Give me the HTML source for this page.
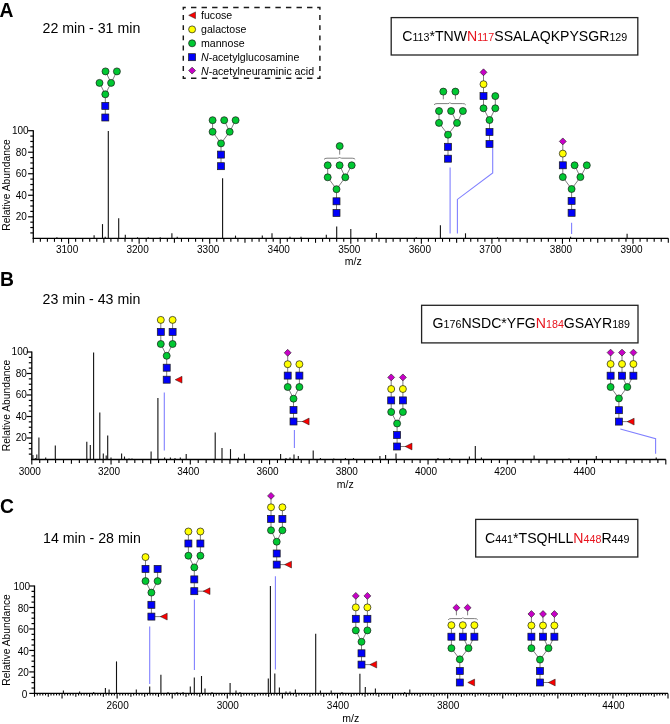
<!DOCTYPE html>
<html><head><meta charset="utf-8"><style>
html,body{margin:0;padding:0;background:#fff;}
body{width:670px;height:724px;overflow:hidden;}
svg{display:block;will-change:transform;font-family:"Liberation Sans", sans-serif;}
</style></head><body>
<svg width="670" height="724" viewBox="0 0 670 724" font-family='"Liberation Sans", sans-serif'>
<rect width="670" height="724" fill="#fff"/>
<text x="-0.50" y="16.80" font-size="19.3" text-anchor="start" font-weight="bold" fill="#000" >A</text>
<text x="42.50" y="33.10" font-size="14.2" text-anchor="start" font-weight="normal" fill="#000" >22 min - 31 min</text>
<path d="M182.60000000000002,7.4 H185.8 M183.3,6.7 V9.8 M317.2,7.4 H320.59999999999997 M319.9,6.7 V9.8 M182.60000000000002,78.2 H185.8 M183.3,78.9 V76.0 M317.2,78.2 H320.59999999999997 M319.9,78.9 V75.8 M191.00,7.4 H196.40 M191.00,78.2 H196.40 M201.55,7.4 H206.95 M201.55,78.2 H206.95 M212.10,7.4 H217.50 M212.10,78.2 H217.50 M222.65,7.4 H228.05 M222.65,78.2 H228.05 M233.20,7.4 H238.60 M233.20,78.2 H238.60 M243.75,7.4 H249.15 M243.75,78.2 H249.15 M254.30,7.4 H259.70 M254.30,78.2 H259.70 M264.85,7.4 H270.25 M264.85,78.2 H270.25 M275.40,7.4 H280.80 M275.40,78.2 H280.80 M285.95,7.4 H291.35 M285.95,78.2 H291.35 M296.50,7.4 H301.90 M296.50,78.2 H301.90 M307.05,7.4 H312.45 M307.05,78.2 H312.45 M183.3,15.00 V19.90 M319.9,15.00 V19.90 M183.3,25.20 V30.10 M319.9,25.20 V30.10 M183.3,35.40 V40.30 M319.9,35.40 V40.30 M183.3,45.60 V50.50 M319.9,45.60 V50.50 M183.3,55.80 V60.70 M319.9,55.80 V60.70 M183.3,66.00 V70.90 M319.9,66.00 V70.90" fill="none" stroke="#1a1a1a" stroke-width="1.45"/>
<path d="M188.70,15.30 L195.50,11.90 L195.50,18.70 Z" fill="#fa0000" stroke="#1a1a1a" stroke-width="0.5"/>
<circle cx="192.10" cy="29.40" r="3.50" fill="#ffff00" stroke="#1a1a1a" stroke-width="0.7"/>
<circle cx="192.10" cy="43.30" r="3.50" fill="#00c832" stroke="#1a1a1a" stroke-width="0.7"/>
<rect x="188.60" y="53.70" width="7.00" height="7.00" fill="#0000fa" stroke="#1a1a1a" stroke-width="0.7"/>
<path d="M192.10,67.15 L195.55,70.60 L192.10,74.05 L188.65,70.60 Z" fill="#c800c8" stroke="#1a1a1a" stroke-width="0.6"/>
<text x="201.00" y="19.30" font-size="10.6" text-anchor="start" font-weight="normal" fill="#000" >fucose</text>
<text x="201.00" y="33.40" font-size="10.6" text-anchor="start" font-weight="normal" fill="#000" >galactose</text>
<text x="201.00" y="47.30" font-size="10.6" text-anchor="start" font-weight="normal" fill="#000" >mannose</text>
<text x="201" y="61.20" font-size="10.6" fill="#000"><tspan font-style="italic">N</tspan>-acetylglucosamine</text>
<text x="201" y="74.60" font-size="10.6" fill="#000"><tspan font-style="italic">N</tspan>-acetylneuraminic acid</text>
<rect x="391.2" y="17.6" width="246.6" height="37.4" fill="none" stroke="#222" stroke-width="1.3"/>
<text x="402.20" y="41.30" fill="#000"><tspan font-size="14.1">C</tspan><tspan font-size="10.7">113</tspan><tspan font-size="14.1">*TNW</tspan><tspan font-size="14.1" fill="#e8141e">N</tspan><tspan font-size="10.7" fill="#e8141e">117</tspan><tspan font-size="14.1">SSALAQKPYSGR</tspan><tspan font-size="10.7">129</tspan></text>
<text transform="translate(9.60,185.00) rotate(-90)" font-size="10.3" text-anchor="middle" fill="#000">Relative Abundance</text>
<line x1="33.30" y1="130.20" x2="33.30" y2="238.90" stroke="#000" stroke-width="1.3" />
<line x1="32.70" y1="238.30" x2="668.30" y2="238.30" stroke="#000" stroke-width="1.3" />
<line x1="30.30" y1="232.92" x2="33.30" y2="232.92" stroke="#000" stroke-width="1.2" />
<line x1="30.30" y1="227.54" x2="33.30" y2="227.54" stroke="#000" stroke-width="1.2" />
<line x1="30.30" y1="222.16" x2="33.30" y2="222.16" stroke="#000" stroke-width="1.2" />
<line x1="28.10" y1="216.78" x2="33.30" y2="216.78" stroke="#000" stroke-width="1.2" />
<text x="26.80" y="220.18" font-size="10" text-anchor="end" font-weight="normal" fill="#000" >20</text>
<line x1="30.30" y1="211.40" x2="33.30" y2="211.40" stroke="#000" stroke-width="1.2" />
<line x1="30.30" y1="206.02" x2="33.30" y2="206.02" stroke="#000" stroke-width="1.2" />
<line x1="30.30" y1="200.64" x2="33.30" y2="200.64" stroke="#000" stroke-width="1.2" />
<line x1="28.10" y1="195.26" x2="33.30" y2="195.26" stroke="#000" stroke-width="1.2" />
<text x="26.80" y="198.66" font-size="10" text-anchor="end" font-weight="normal" fill="#000" >40</text>
<line x1="30.30" y1="189.88" x2="33.30" y2="189.88" stroke="#000" stroke-width="1.2" />
<line x1="30.30" y1="184.50" x2="33.30" y2="184.50" stroke="#000" stroke-width="1.2" />
<line x1="30.30" y1="179.12" x2="33.30" y2="179.12" stroke="#000" stroke-width="1.2" />
<line x1="28.10" y1="173.74" x2="33.30" y2="173.74" stroke="#000" stroke-width="1.2" />
<text x="26.80" y="177.14" font-size="10" text-anchor="end" font-weight="normal" fill="#000" >60</text>
<line x1="30.30" y1="168.36" x2="33.30" y2="168.36" stroke="#000" stroke-width="1.2" />
<line x1="30.30" y1="162.98" x2="33.30" y2="162.98" stroke="#000" stroke-width="1.2" />
<line x1="30.30" y1="157.60" x2="33.30" y2="157.60" stroke="#000" stroke-width="1.2" />
<line x1="28.10" y1="152.22" x2="33.30" y2="152.22" stroke="#000" stroke-width="1.2" />
<text x="26.80" y="155.62" font-size="10" text-anchor="end" font-weight="normal" fill="#000" >80</text>
<line x1="30.30" y1="146.84" x2="33.30" y2="146.84" stroke="#000" stroke-width="1.2" />
<line x1="30.30" y1="141.46" x2="33.30" y2="141.46" stroke="#000" stroke-width="1.2" />
<line x1="30.30" y1="136.08" x2="33.30" y2="136.08" stroke="#000" stroke-width="1.2" />
<line x1="28.10" y1="130.70" x2="33.30" y2="130.70" stroke="#000" stroke-width="1.2" />
<text x="28.60" y="134.10" font-size="10" text-anchor="end" font-weight="normal" fill="#000" >100</text>
<line x1="33.30" y1="238.30" x2="33.30" y2="242.80" stroke="#000" stroke-width="1.1" />
<line x1="40.36" y1="238.30" x2="40.36" y2="241.80" stroke="#000" stroke-width="1.1" />
<line x1="47.41" y1="238.30" x2="47.41" y2="241.80" stroke="#000" stroke-width="1.1" />
<line x1="54.47" y1="238.30" x2="54.47" y2="241.80" stroke="#000" stroke-width="1.1" />
<line x1="61.52" y1="238.30" x2="61.52" y2="241.80" stroke="#000" stroke-width="1.1" />
<line x1="68.58" y1="238.30" x2="68.58" y2="243.80" stroke="#000" stroke-width="1.1" />
<line x1="75.63" y1="238.30" x2="75.63" y2="241.80" stroke="#000" stroke-width="1.1" />
<line x1="82.69" y1="238.30" x2="82.69" y2="241.80" stroke="#000" stroke-width="1.1" />
<line x1="89.74" y1="238.30" x2="89.74" y2="241.80" stroke="#000" stroke-width="1.1" />
<line x1="96.80" y1="238.30" x2="96.80" y2="241.80" stroke="#000" stroke-width="1.1" />
<line x1="103.86" y1="238.30" x2="103.86" y2="242.80" stroke="#000" stroke-width="1.1" />
<line x1="110.91" y1="238.30" x2="110.91" y2="241.80" stroke="#000" stroke-width="1.1" />
<line x1="117.97" y1="238.30" x2="117.97" y2="241.80" stroke="#000" stroke-width="1.1" />
<line x1="125.02" y1="238.30" x2="125.02" y2="241.80" stroke="#000" stroke-width="1.1" />
<line x1="132.08" y1="238.30" x2="132.08" y2="241.80" stroke="#000" stroke-width="1.1" />
<line x1="139.13" y1="238.30" x2="139.13" y2="243.80" stroke="#000" stroke-width="1.1" />
<line x1="146.19" y1="238.30" x2="146.19" y2="241.80" stroke="#000" stroke-width="1.1" />
<line x1="153.24" y1="238.30" x2="153.24" y2="241.80" stroke="#000" stroke-width="1.1" />
<line x1="160.30" y1="238.30" x2="160.30" y2="241.80" stroke="#000" stroke-width="1.1" />
<line x1="167.36" y1="238.30" x2="167.36" y2="241.80" stroke="#000" stroke-width="1.1" />
<line x1="174.41" y1="238.30" x2="174.41" y2="242.80" stroke="#000" stroke-width="1.1" />
<line x1="181.47" y1="238.30" x2="181.47" y2="241.80" stroke="#000" stroke-width="1.1" />
<line x1="188.52" y1="238.30" x2="188.52" y2="241.80" stroke="#000" stroke-width="1.1" />
<line x1="195.58" y1="238.30" x2="195.58" y2="241.80" stroke="#000" stroke-width="1.1" />
<line x1="202.63" y1="238.30" x2="202.63" y2="241.80" stroke="#000" stroke-width="1.1" />
<line x1="209.69" y1="238.30" x2="209.69" y2="243.80" stroke="#000" stroke-width="1.1" />
<line x1="216.74" y1="238.30" x2="216.74" y2="241.80" stroke="#000" stroke-width="1.1" />
<line x1="223.80" y1="238.30" x2="223.80" y2="241.80" stroke="#000" stroke-width="1.1" />
<line x1="230.86" y1="238.30" x2="230.86" y2="241.80" stroke="#000" stroke-width="1.1" />
<line x1="237.91" y1="238.30" x2="237.91" y2="241.80" stroke="#000" stroke-width="1.1" />
<line x1="244.97" y1="238.30" x2="244.97" y2="242.80" stroke="#000" stroke-width="1.1" />
<line x1="252.02" y1="238.30" x2="252.02" y2="241.80" stroke="#000" stroke-width="1.1" />
<line x1="259.08" y1="238.30" x2="259.08" y2="241.80" stroke="#000" stroke-width="1.1" />
<line x1="266.13" y1="238.30" x2="266.13" y2="241.80" stroke="#000" stroke-width="1.1" />
<line x1="273.19" y1="238.30" x2="273.19" y2="241.80" stroke="#000" stroke-width="1.1" />
<line x1="280.24" y1="238.30" x2="280.24" y2="243.80" stroke="#000" stroke-width="1.1" />
<line x1="287.30" y1="238.30" x2="287.30" y2="241.80" stroke="#000" stroke-width="1.1" />
<line x1="294.36" y1="238.30" x2="294.36" y2="241.80" stroke="#000" stroke-width="1.1" />
<line x1="301.41" y1="238.30" x2="301.41" y2="241.80" stroke="#000" stroke-width="1.1" />
<line x1="308.47" y1="238.30" x2="308.47" y2="241.80" stroke="#000" stroke-width="1.1" />
<line x1="315.52" y1="238.30" x2="315.52" y2="242.80" stroke="#000" stroke-width="1.1" />
<line x1="322.58" y1="238.30" x2="322.58" y2="241.80" stroke="#000" stroke-width="1.1" />
<line x1="329.63" y1="238.30" x2="329.63" y2="241.80" stroke="#000" stroke-width="1.1" />
<line x1="336.69" y1="238.30" x2="336.69" y2="241.80" stroke="#000" stroke-width="1.1" />
<line x1="343.74" y1="238.30" x2="343.74" y2="241.80" stroke="#000" stroke-width="1.1" />
<line x1="350.80" y1="238.30" x2="350.80" y2="243.80" stroke="#000" stroke-width="1.1" />
<line x1="357.86" y1="238.30" x2="357.86" y2="241.80" stroke="#000" stroke-width="1.1" />
<line x1="364.91" y1="238.30" x2="364.91" y2="241.80" stroke="#000" stroke-width="1.1" />
<line x1="371.97" y1="238.30" x2="371.97" y2="241.80" stroke="#000" stroke-width="1.1" />
<line x1="379.02" y1="238.30" x2="379.02" y2="241.80" stroke="#000" stroke-width="1.1" />
<line x1="386.08" y1="238.30" x2="386.08" y2="242.80" stroke="#000" stroke-width="1.1" />
<line x1="393.13" y1="238.30" x2="393.13" y2="241.80" stroke="#000" stroke-width="1.1" />
<line x1="400.19" y1="238.30" x2="400.19" y2="241.80" stroke="#000" stroke-width="1.1" />
<line x1="407.24" y1="238.30" x2="407.24" y2="241.80" stroke="#000" stroke-width="1.1" />
<line x1="414.30" y1="238.30" x2="414.30" y2="241.80" stroke="#000" stroke-width="1.1" />
<line x1="421.36" y1="238.30" x2="421.36" y2="243.80" stroke="#000" stroke-width="1.1" />
<line x1="428.41" y1="238.30" x2="428.41" y2="241.80" stroke="#000" stroke-width="1.1" />
<line x1="435.47" y1="238.30" x2="435.47" y2="241.80" stroke="#000" stroke-width="1.1" />
<line x1="442.52" y1="238.30" x2="442.52" y2="241.80" stroke="#000" stroke-width="1.1" />
<line x1="449.58" y1="238.30" x2="449.58" y2="241.80" stroke="#000" stroke-width="1.1" />
<line x1="456.63" y1="238.30" x2="456.63" y2="242.80" stroke="#000" stroke-width="1.1" />
<line x1="463.69" y1="238.30" x2="463.69" y2="241.80" stroke="#000" stroke-width="1.1" />
<line x1="470.74" y1="238.30" x2="470.74" y2="241.80" stroke="#000" stroke-width="1.1" />
<line x1="477.80" y1="238.30" x2="477.80" y2="241.80" stroke="#000" stroke-width="1.1" />
<line x1="484.86" y1="238.30" x2="484.86" y2="241.80" stroke="#000" stroke-width="1.1" />
<line x1="491.91" y1="238.30" x2="491.91" y2="243.80" stroke="#000" stroke-width="1.1" />
<line x1="498.97" y1="238.30" x2="498.97" y2="241.80" stroke="#000" stroke-width="1.1" />
<line x1="506.02" y1="238.30" x2="506.02" y2="241.80" stroke="#000" stroke-width="1.1" />
<line x1="513.08" y1="238.30" x2="513.08" y2="241.80" stroke="#000" stroke-width="1.1" />
<line x1="520.13" y1="238.30" x2="520.13" y2="241.80" stroke="#000" stroke-width="1.1" />
<line x1="527.19" y1="238.30" x2="527.19" y2="242.80" stroke="#000" stroke-width="1.1" />
<line x1="534.24" y1="238.30" x2="534.24" y2="241.80" stroke="#000" stroke-width="1.1" />
<line x1="541.30" y1="238.30" x2="541.30" y2="241.80" stroke="#000" stroke-width="1.1" />
<line x1="548.36" y1="238.30" x2="548.36" y2="241.80" stroke="#000" stroke-width="1.1" />
<line x1="555.41" y1="238.30" x2="555.41" y2="241.80" stroke="#000" stroke-width="1.1" />
<line x1="562.47" y1="238.30" x2="562.47" y2="243.80" stroke="#000" stroke-width="1.1" />
<line x1="569.52" y1="238.30" x2="569.52" y2="241.80" stroke="#000" stroke-width="1.1" />
<line x1="576.58" y1="238.30" x2="576.58" y2="241.80" stroke="#000" stroke-width="1.1" />
<line x1="583.63" y1="238.30" x2="583.63" y2="241.80" stroke="#000" stroke-width="1.1" />
<line x1="590.69" y1="238.30" x2="590.69" y2="241.80" stroke="#000" stroke-width="1.1" />
<line x1="597.74" y1="238.30" x2="597.74" y2="242.80" stroke="#000" stroke-width="1.1" />
<line x1="604.80" y1="238.30" x2="604.80" y2="241.80" stroke="#000" stroke-width="1.1" />
<line x1="611.86" y1="238.30" x2="611.86" y2="241.80" stroke="#000" stroke-width="1.1" />
<line x1="618.91" y1="238.30" x2="618.91" y2="241.80" stroke="#000" stroke-width="1.1" />
<line x1="625.97" y1="238.30" x2="625.97" y2="241.80" stroke="#000" stroke-width="1.1" />
<line x1="633.02" y1="238.30" x2="633.02" y2="243.80" stroke="#000" stroke-width="1.1" />
<line x1="640.08" y1="238.30" x2="640.08" y2="241.80" stroke="#000" stroke-width="1.1" />
<line x1="647.13" y1="238.30" x2="647.13" y2="241.80" stroke="#000" stroke-width="1.1" />
<line x1="654.19" y1="238.30" x2="654.19" y2="241.80" stroke="#000" stroke-width="1.1" />
<line x1="661.24" y1="238.30" x2="661.24" y2="241.80" stroke="#000" stroke-width="1.1" />
<line x1="668.30" y1="238.30" x2="668.30" y2="242.80" stroke="#000" stroke-width="1.1" />
<text x="67.08" y="253.30" font-size="10" text-anchor="middle" font-weight="normal" fill="#000" >3100</text>
<text x="137.63" y="253.30" font-size="10" text-anchor="middle" font-weight="normal" fill="#000" >3200</text>
<text x="208.19" y="253.30" font-size="10" text-anchor="middle" font-weight="normal" fill="#000" >3300</text>
<text x="278.74" y="253.30" font-size="10" text-anchor="middle" font-weight="normal" fill="#000" >3400</text>
<text x="349.30" y="253.30" font-size="10" text-anchor="middle" font-weight="normal" fill="#000" >3500</text>
<text x="419.86" y="253.30" font-size="10" text-anchor="middle" font-weight="normal" fill="#000" >3600</text>
<text x="490.41" y="253.30" font-size="10" text-anchor="middle" font-weight="normal" fill="#000" >3700</text>
<text x="560.97" y="253.30" font-size="10" text-anchor="middle" font-weight="normal" fill="#000" >3800</text>
<text x="631.52" y="253.30" font-size="10" text-anchor="middle" font-weight="normal" fill="#000" >3900</text>
<text x="353.30" y="265.40" font-size="10.5" text-anchor="middle" font-weight="normal" fill="#000" >m/z</text>
<line x1="56.90" y1="238.30" x2="56.90" y2="237.30" stroke="#111" stroke-width="1.1" />
<line x1="94.10" y1="238.30" x2="94.10" y2="235.30" stroke="#111" stroke-width="1.1" />
<line x1="102.50" y1="238.30" x2="102.50" y2="224.10" stroke="#111" stroke-width="1.1" />
<line x1="105.20" y1="238.30" x2="105.20" y2="236.80" stroke="#111" stroke-width="1.1" />
<line x1="108.30" y1="238.30" x2="108.30" y2="131.10" stroke="#111" stroke-width="1.1" />
<line x1="118.70" y1="238.30" x2="118.70" y2="218.30" stroke="#111" stroke-width="1.1" />
<line x1="125.30" y1="238.30" x2="125.30" y2="234.80" stroke="#111" stroke-width="1.1" />
<line x1="137.50" y1="238.30" x2="137.50" y2="237.30" stroke="#111" stroke-width="1.1" />
<line x1="148.20" y1="238.30" x2="148.20" y2="237.30" stroke="#111" stroke-width="1.1" />
<line x1="160.20" y1="238.30" x2="160.20" y2="237.30" stroke="#111" stroke-width="1.1" />
<line x1="171.90" y1="238.30" x2="171.90" y2="233.30" stroke="#111" stroke-width="1.1" />
<line x1="177.20" y1="238.30" x2="177.20" y2="236.80" stroke="#111" stroke-width="1.1" />
<line x1="222.60" y1="238.30" x2="222.60" y2="178.30" stroke="#111" stroke-width="1.1" />
<line x1="235.50" y1="238.30" x2="235.50" y2="235.60" stroke="#111" stroke-width="1.1" />
<line x1="262.30" y1="238.30" x2="262.30" y2="235.60" stroke="#111" stroke-width="1.1" />
<line x1="272.00" y1="238.30" x2="272.00" y2="233.30" stroke="#111" stroke-width="1.1" />
<line x1="290.00" y1="238.30" x2="290.00" y2="236.80" stroke="#111" stroke-width="1.1" />
<line x1="301.00" y1="238.30" x2="301.00" y2="236.80" stroke="#111" stroke-width="1.1" />
<line x1="326.30" y1="238.30" x2="326.30" y2="234.80" stroke="#111" stroke-width="1.1" />
<line x1="336.70" y1="238.30" x2="336.70" y2="226.60" stroke="#111" stroke-width="1.1" />
<line x1="350.80" y1="238.30" x2="350.80" y2="228.90" stroke="#111" stroke-width="1.1" />
<line x1="376.40" y1="238.30" x2="376.40" y2="232.90" stroke="#111" stroke-width="1.1" />
<line x1="416.20" y1="238.30" x2="416.20" y2="237.30" stroke="#111" stroke-width="1.1" />
<line x1="440.40" y1="238.30" x2="440.40" y2="225.30" stroke="#111" stroke-width="1.1" />
<line x1="465.50" y1="238.30" x2="465.50" y2="233.30" stroke="#111" stroke-width="1.1" />
<line x1="497.50" y1="238.30" x2="497.50" y2="237.30" stroke="#111" stroke-width="1.1" />
<line x1="570.60" y1="238.30" x2="570.60" y2="236.80" stroke="#111" stroke-width="1.1" />
<line x1="627.10" y1="238.30" x2="627.10" y2="233.80" stroke="#111" stroke-width="1.1" />
<line x1="450.10" y1="167.50" x2="450.10" y2="233.60" stroke="#8080ff" stroke-width="1.1" />
<polyline points="492.7,147.7 492.7,172.9 457.4,199.4 457.4,233.6" fill="none" stroke="#8080ff" stroke-width="1.1"/>
<line x1="571.60" y1="222.70" x2="571.60" y2="234.10" stroke="#8080ff" stroke-width="1.1" />
<line x1="105.30" y1="117.50" x2="105.30" y2="105.90" stroke="#707070" stroke-width="0.9" />
<line x1="105.30" y1="105.90" x2="105.30" y2="94.30" stroke="#707070" stroke-width="0.9" />
<line x1="105.30" y1="94.30" x2="99.50" y2="82.90" stroke="#707070" stroke-width="0.9" />
<line x1="105.30" y1="94.30" x2="111.10" y2="82.90" stroke="#707070" stroke-width="0.9" />
<line x1="111.10" y1="82.90" x2="105.50" y2="71.40" stroke="#707070" stroke-width="0.9" />
<line x1="111.10" y1="82.90" x2="116.90" y2="71.40" stroke="#707070" stroke-width="0.9" />
<rect x="101.80" y="114.00" width="7.00" height="7.00" fill="#0000fa" stroke="#1a1a1a" stroke-width="0.7"/>
<rect x="101.80" y="102.40" width="7.00" height="7.00" fill="#0000fa" stroke="#1a1a1a" stroke-width="0.7"/>
<circle cx="105.30" cy="94.30" r="3.50" fill="#00c832" stroke="#1a1a1a" stroke-width="0.7"/>
<circle cx="99.50" cy="82.90" r="3.50" fill="#00c832" stroke="#1a1a1a" stroke-width="0.7"/>
<circle cx="111.10" cy="82.90" r="3.50" fill="#00c832" stroke="#1a1a1a" stroke-width="0.7"/>
<circle cx="105.50" cy="71.40" r="3.50" fill="#00c832" stroke="#1a1a1a" stroke-width="0.7"/>
<circle cx="116.90" cy="71.40" r="3.50" fill="#00c832" stroke="#1a1a1a" stroke-width="0.7"/>
<line x1="221.00" y1="166.20" x2="221.00" y2="154.60" stroke="#707070" stroke-width="0.9" />
<line x1="221.00" y1="154.60" x2="221.00" y2="143.40" stroke="#707070" stroke-width="0.9" />
<line x1="221.00" y1="143.40" x2="212.60" y2="131.80" stroke="#707070" stroke-width="0.9" />
<line x1="221.00" y1="143.40" x2="229.70" y2="131.80" stroke="#707070" stroke-width="0.9" />
<line x1="212.60" y1="131.80" x2="212.60" y2="120.20" stroke="#707070" stroke-width="0.9" />
<line x1="229.70" y1="131.80" x2="224.20" y2="120.20" stroke="#707070" stroke-width="0.9" />
<line x1="229.70" y1="131.80" x2="235.60" y2="120.20" stroke="#707070" stroke-width="0.9" />
<rect x="217.50" y="162.70" width="7.00" height="7.00" fill="#0000fa" stroke="#1a1a1a" stroke-width="0.7"/>
<rect x="217.50" y="151.10" width="7.00" height="7.00" fill="#0000fa" stroke="#1a1a1a" stroke-width="0.7"/>
<circle cx="221.00" cy="143.40" r="3.50" fill="#00c832" stroke="#1a1a1a" stroke-width="0.7"/>
<circle cx="212.60" cy="131.80" r="3.50" fill="#00c832" stroke="#1a1a1a" stroke-width="0.7"/>
<circle cx="229.70" cy="131.80" r="3.50" fill="#00c832" stroke="#1a1a1a" stroke-width="0.7"/>
<circle cx="212.60" cy="120.20" r="3.50" fill="#00c832" stroke="#1a1a1a" stroke-width="0.7"/>
<circle cx="224.20" cy="120.20" r="3.50" fill="#00c832" stroke="#1a1a1a" stroke-width="0.7"/>
<circle cx="235.60" cy="120.20" r="3.50" fill="#00c832" stroke="#1a1a1a" stroke-width="0.7"/>
<line x1="336.50" y1="213.00" x2="336.50" y2="201.30" stroke="#707070" stroke-width="0.9" />
<line x1="336.50" y1="201.30" x2="336.50" y2="189.20" stroke="#707070" stroke-width="0.9" />
<line x1="336.50" y1="189.20" x2="327.70" y2="177.30" stroke="#707070" stroke-width="0.9" />
<line x1="336.50" y1="189.20" x2="345.30" y2="177.30" stroke="#707070" stroke-width="0.9" />
<line x1="327.70" y1="177.30" x2="327.70" y2="165.30" stroke="#707070" stroke-width="0.9" />
<line x1="345.30" y1="177.30" x2="339.60" y2="165.30" stroke="#707070" stroke-width="0.9" />
<line x1="345.30" y1="177.30" x2="351.70" y2="165.30" stroke="#707070" stroke-width="0.9" />
<line x1="339.70" y1="149.00" x2="339.70" y2="154.60" stroke="#707070" stroke-width="0.9" />
<rect x="333.00" y="209.50" width="7.00" height="7.00" fill="#0000fa" stroke="#1a1a1a" stroke-width="0.7"/>
<rect x="333.00" y="197.80" width="7.00" height="7.00" fill="#0000fa" stroke="#1a1a1a" stroke-width="0.7"/>
<circle cx="336.50" cy="189.20" r="3.50" fill="#00c832" stroke="#1a1a1a" stroke-width="0.7"/>
<circle cx="327.70" cy="177.30" r="3.50" fill="#00c832" stroke="#1a1a1a" stroke-width="0.7"/>
<circle cx="345.30" cy="177.30" r="3.50" fill="#00c832" stroke="#1a1a1a" stroke-width="0.7"/>
<circle cx="327.70" cy="165.30" r="3.50" fill="#00c832" stroke="#1a1a1a" stroke-width="0.7"/>
<circle cx="339.60" cy="165.30" r="3.50" fill="#00c832" stroke="#1a1a1a" stroke-width="0.7"/>
<circle cx="351.70" cy="165.30" r="3.50" fill="#00c832" stroke="#1a1a1a" stroke-width="0.7"/>
<circle cx="339.70" cy="146.10" r="3.50" fill="#00c832" stroke="#1a1a1a" stroke-width="0.7"/>
<path d="M324.00,159.50 Q324.50,158.20 327.00,158.20 L337.60,158.20 Q339.10,158.20 339.60,157.20 Q340.10,158.20 341.60,158.20 L352.20,158.20 Q354.70,158.20 355.20,159.50" fill="none" stroke="#707070" stroke-width="0.9"/>
<line x1="448.00" y1="158.70" x2="448.00" y2="146.80" stroke="#707070" stroke-width="0.9" />
<line x1="448.00" y1="146.80" x2="448.00" y2="134.70" stroke="#707070" stroke-width="0.9" />
<line x1="448.00" y1="134.70" x2="439.00" y2="122.90" stroke="#707070" stroke-width="0.9" />
<line x1="448.00" y1="134.70" x2="457.00" y2="122.90" stroke="#707070" stroke-width="0.9" />
<line x1="439.00" y1="122.90" x2="439.00" y2="111.00" stroke="#707070" stroke-width="0.9" />
<line x1="457.00" y1="122.90" x2="451.10" y2="111.00" stroke="#707070" stroke-width="0.9" />
<line x1="457.00" y1="122.90" x2="462.90" y2="111.00" stroke="#707070" stroke-width="0.9" />
<line x1="443.30" y1="94.50" x2="443.30" y2="99.30" stroke="#707070" stroke-width="0.9" />
<line x1="455.40" y1="94.50" x2="455.40" y2="99.30" stroke="#707070" stroke-width="0.9" />
<rect x="444.50" y="155.20" width="7.00" height="7.00" fill="#0000fa" stroke="#1a1a1a" stroke-width="0.7"/>
<rect x="444.50" y="143.30" width="7.00" height="7.00" fill="#0000fa" stroke="#1a1a1a" stroke-width="0.7"/>
<circle cx="448.00" cy="134.70" r="3.50" fill="#00c832" stroke="#1a1a1a" stroke-width="0.7"/>
<circle cx="439.00" cy="122.90" r="3.50" fill="#00c832" stroke="#1a1a1a" stroke-width="0.7"/>
<circle cx="457.00" cy="122.90" r="3.50" fill="#00c832" stroke="#1a1a1a" stroke-width="0.7"/>
<circle cx="439.00" cy="111.00" r="3.50" fill="#00c832" stroke="#1a1a1a" stroke-width="0.7"/>
<circle cx="451.10" cy="111.00" r="3.50" fill="#00c832" stroke="#1a1a1a" stroke-width="0.7"/>
<circle cx="462.90" cy="111.00" r="3.50" fill="#00c832" stroke="#1a1a1a" stroke-width="0.7"/>
<circle cx="443.30" cy="91.60" r="3.50" fill="#00c832" stroke="#1a1a1a" stroke-width="0.7"/>
<circle cx="455.40" cy="91.60" r="3.50" fill="#00c832" stroke="#1a1a1a" stroke-width="0.7"/>
<path d="M434.00,104.90 Q434.50,103.60 437.00,103.60 L447.85,103.60 Q449.35,103.60 449.85,102.60 Q450.35,103.60 451.85,103.60 L462.70,103.60 Q465.20,103.60 465.70,104.90" fill="none" stroke="#707070" stroke-width="0.9"/>
<line x1="489.50" y1="144.00" x2="489.50" y2="132.00" stroke="#707070" stroke-width="0.9" />
<line x1="489.50" y1="132.00" x2="489.50" y2="120.00" stroke="#707070" stroke-width="0.9" />
<line x1="489.50" y1="120.00" x2="483.50" y2="108.30" stroke="#707070" stroke-width="0.9" />
<line x1="489.50" y1="120.00" x2="495.30" y2="108.30" stroke="#707070" stroke-width="0.9" />
<line x1="483.50" y1="108.30" x2="483.50" y2="96.10" stroke="#707070" stroke-width="0.9" />
<line x1="483.50" y1="96.10" x2="483.50" y2="84.20" stroke="#707070" stroke-width="0.9" />
<line x1="483.50" y1="84.20" x2="483.50" y2="72.30" stroke="#707070" stroke-width="0.9" />
<line x1="495.30" y1="108.30" x2="495.30" y2="96.10" stroke="#707070" stroke-width="0.9" />
<rect x="486.00" y="140.50" width="7.00" height="7.00" fill="#0000fa" stroke="#1a1a1a" stroke-width="0.7"/>
<rect x="486.00" y="128.50" width="7.00" height="7.00" fill="#0000fa" stroke="#1a1a1a" stroke-width="0.7"/>
<circle cx="489.50" cy="120.00" r="3.50" fill="#00c832" stroke="#1a1a1a" stroke-width="0.7"/>
<circle cx="483.50" cy="108.30" r="3.50" fill="#00c832" stroke="#1a1a1a" stroke-width="0.7"/>
<circle cx="495.30" cy="108.30" r="3.50" fill="#00c832" stroke="#1a1a1a" stroke-width="0.7"/>
<rect x="480.00" y="92.60" width="7.00" height="7.00" fill="#0000fa" stroke="#1a1a1a" stroke-width="0.7"/>
<circle cx="483.50" cy="84.20" r="3.50" fill="#ffff00" stroke="#1a1a1a" stroke-width="0.7"/>
<path d="M483.50,68.85 L486.95,72.30 L483.50,75.75 L480.05,72.30 Z" fill="#c800c8" stroke="#1a1a1a" stroke-width="0.6"/>
<circle cx="495.30" cy="96.10" r="3.50" fill="#00c832" stroke="#1a1a1a" stroke-width="0.7"/>
<line x1="571.60" y1="212.80" x2="571.60" y2="200.90" stroke="#707070" stroke-width="0.9" />
<line x1="571.60" y1="200.90" x2="571.60" y2="189.00" stroke="#707070" stroke-width="0.9" />
<line x1="571.60" y1="189.00" x2="562.80" y2="177.10" stroke="#707070" stroke-width="0.9" />
<line x1="571.60" y1="189.00" x2="580.40" y2="177.10" stroke="#707070" stroke-width="0.9" />
<line x1="562.80" y1="177.10" x2="562.80" y2="165.30" stroke="#707070" stroke-width="0.9" />
<line x1="562.80" y1="165.30" x2="562.80" y2="153.60" stroke="#707070" stroke-width="0.9" />
<line x1="562.80" y1="153.60" x2="562.80" y2="141.40" stroke="#707070" stroke-width="0.9" />
<line x1="580.40" y1="177.10" x2="574.60" y2="165.30" stroke="#707070" stroke-width="0.9" />
<line x1="580.40" y1="177.10" x2="586.80" y2="165.30" stroke="#707070" stroke-width="0.9" />
<rect x="568.10" y="209.30" width="7.00" height="7.00" fill="#0000fa" stroke="#1a1a1a" stroke-width="0.7"/>
<rect x="568.10" y="197.40" width="7.00" height="7.00" fill="#0000fa" stroke="#1a1a1a" stroke-width="0.7"/>
<circle cx="571.60" cy="189.00" r="3.50" fill="#00c832" stroke="#1a1a1a" stroke-width="0.7"/>
<circle cx="562.80" cy="177.10" r="3.50" fill="#00c832" stroke="#1a1a1a" stroke-width="0.7"/>
<circle cx="580.40" cy="177.10" r="3.50" fill="#00c832" stroke="#1a1a1a" stroke-width="0.7"/>
<rect x="559.30" y="161.80" width="7.00" height="7.00" fill="#0000fa" stroke="#1a1a1a" stroke-width="0.7"/>
<circle cx="562.80" cy="153.60" r="3.50" fill="#ffff00" stroke="#1a1a1a" stroke-width="0.7"/>
<path d="M562.80,137.95 L566.25,141.40 L562.80,144.85 L559.35,141.40 Z" fill="#c800c8" stroke="#1a1a1a" stroke-width="0.6"/>
<circle cx="574.60" cy="165.30" r="3.50" fill="#00c832" stroke="#1a1a1a" stroke-width="0.7"/>
<circle cx="586.80" cy="165.30" r="3.50" fill="#00c832" stroke="#1a1a1a" stroke-width="0.7"/>
<text x="0.00" y="286.40" font-size="19.3" text-anchor="start" font-weight="bold" fill="#000" >B</text>
<text x="42.50" y="303.70" font-size="14.2" text-anchor="start" font-weight="normal" fill="#000" >23 min - 43 min</text>
<rect x="421.6" y="305.3" width="216.4" height="37.6" fill="none" stroke="#222" stroke-width="1.3"/>
<text x="432.60" y="328.40" fill="#000"><tspan font-size="14.1">G</tspan><tspan font-size="10.7">176</tspan><tspan font-size="14.1">NSDC*YFG</tspan><tspan font-size="14.1" fill="#e8141e">N</tspan><tspan font-size="10.7" fill="#e8141e">184</tspan><tspan font-size="14.1">GSAYR</tspan><tspan font-size="10.7">189</tspan></text>
<text transform="translate(9.60,405.50) rotate(-90)" font-size="10.3" text-anchor="middle" fill="#000">Relative Abundance</text>
<line x1="31.80" y1="351.50" x2="31.80" y2="460.10" stroke="#000" stroke-width="1.3" />
<line x1="31.20" y1="459.50" x2="665.80" y2="459.50" stroke="#000" stroke-width="1.3" />
<line x1="28.80" y1="454.12" x2="31.80" y2="454.12" stroke="#000" stroke-width="1.2" />
<line x1="28.80" y1="448.75" x2="31.80" y2="448.75" stroke="#000" stroke-width="1.2" />
<line x1="28.80" y1="443.38" x2="31.80" y2="443.38" stroke="#000" stroke-width="1.2" />
<line x1="26.60" y1="438.00" x2="31.80" y2="438.00" stroke="#000" stroke-width="1.2" />
<text x="26.80" y="441.40" font-size="10" text-anchor="end" font-weight="normal" fill="#000" >20</text>
<line x1="28.80" y1="432.62" x2="31.80" y2="432.62" stroke="#000" stroke-width="1.2" />
<line x1="28.80" y1="427.25" x2="31.80" y2="427.25" stroke="#000" stroke-width="1.2" />
<line x1="28.80" y1="421.88" x2="31.80" y2="421.88" stroke="#000" stroke-width="1.2" />
<line x1="26.60" y1="416.50" x2="31.80" y2="416.50" stroke="#000" stroke-width="1.2" />
<text x="26.80" y="419.90" font-size="10" text-anchor="end" font-weight="normal" fill="#000" >40</text>
<line x1="28.80" y1="411.12" x2="31.80" y2="411.12" stroke="#000" stroke-width="1.2" />
<line x1="28.80" y1="405.75" x2="31.80" y2="405.75" stroke="#000" stroke-width="1.2" />
<line x1="28.80" y1="400.38" x2="31.80" y2="400.38" stroke="#000" stroke-width="1.2" />
<line x1="26.60" y1="395.00" x2="31.80" y2="395.00" stroke="#000" stroke-width="1.2" />
<text x="26.80" y="398.40" font-size="10" text-anchor="end" font-weight="normal" fill="#000" >60</text>
<line x1="28.80" y1="389.62" x2="31.80" y2="389.62" stroke="#000" stroke-width="1.2" />
<line x1="28.80" y1="384.25" x2="31.80" y2="384.25" stroke="#000" stroke-width="1.2" />
<line x1="28.80" y1="378.88" x2="31.80" y2="378.88" stroke="#000" stroke-width="1.2" />
<line x1="26.60" y1="373.50" x2="31.80" y2="373.50" stroke="#000" stroke-width="1.2" />
<text x="26.80" y="376.90" font-size="10" text-anchor="end" font-weight="normal" fill="#000" >80</text>
<line x1="28.80" y1="368.12" x2="31.80" y2="368.12" stroke="#000" stroke-width="1.2" />
<line x1="28.80" y1="362.75" x2="31.80" y2="362.75" stroke="#000" stroke-width="1.2" />
<line x1="28.80" y1="357.38" x2="31.80" y2="357.38" stroke="#000" stroke-width="1.2" />
<line x1="26.60" y1="352.00" x2="31.80" y2="352.00" stroke="#000" stroke-width="1.2" />
<text x="28.30" y="355.40" font-size="10" text-anchor="end" font-weight="normal" fill="#000" >100</text>
<line x1="31.80" y1="459.50" x2="31.80" y2="464.50" stroke="#000" stroke-width="1.1" />
<line x1="39.73" y1="459.50" x2="39.73" y2="463.00" stroke="#000" stroke-width="1.1" />
<line x1="47.65" y1="459.50" x2="47.65" y2="463.00" stroke="#000" stroke-width="1.1" />
<line x1="55.58" y1="459.50" x2="55.58" y2="463.00" stroke="#000" stroke-width="1.1" />
<line x1="63.50" y1="459.50" x2="63.50" y2="463.00" stroke="#000" stroke-width="1.1" />
<line x1="71.42" y1="459.50" x2="71.42" y2="463.80" stroke="#000" stroke-width="1.1" />
<line x1="79.35" y1="459.50" x2="79.35" y2="463.00" stroke="#000" stroke-width="1.1" />
<line x1="87.28" y1="459.50" x2="87.28" y2="463.00" stroke="#000" stroke-width="1.1" />
<line x1="95.20" y1="459.50" x2="95.20" y2="463.00" stroke="#000" stroke-width="1.1" />
<line x1="103.12" y1="459.50" x2="103.12" y2="463.00" stroke="#000" stroke-width="1.1" />
<line x1="111.05" y1="459.50" x2="111.05" y2="464.50" stroke="#000" stroke-width="1.1" />
<line x1="118.97" y1="459.50" x2="118.97" y2="463.00" stroke="#000" stroke-width="1.1" />
<line x1="126.90" y1="459.50" x2="126.90" y2="463.00" stroke="#000" stroke-width="1.1" />
<line x1="134.82" y1="459.50" x2="134.82" y2="463.00" stroke="#000" stroke-width="1.1" />
<line x1="142.75" y1="459.50" x2="142.75" y2="463.00" stroke="#000" stroke-width="1.1" />
<line x1="150.68" y1="459.50" x2="150.68" y2="463.80" stroke="#000" stroke-width="1.1" />
<line x1="158.60" y1="459.50" x2="158.60" y2="463.00" stroke="#000" stroke-width="1.1" />
<line x1="166.53" y1="459.50" x2="166.53" y2="463.00" stroke="#000" stroke-width="1.1" />
<line x1="174.45" y1="459.50" x2="174.45" y2="463.00" stroke="#000" stroke-width="1.1" />
<line x1="182.38" y1="459.50" x2="182.38" y2="463.00" stroke="#000" stroke-width="1.1" />
<line x1="190.30" y1="459.50" x2="190.30" y2="464.50" stroke="#000" stroke-width="1.1" />
<line x1="198.22" y1="459.50" x2="198.22" y2="463.00" stroke="#000" stroke-width="1.1" />
<line x1="206.15" y1="459.50" x2="206.15" y2="463.00" stroke="#000" stroke-width="1.1" />
<line x1="214.08" y1="459.50" x2="214.08" y2="463.00" stroke="#000" stroke-width="1.1" />
<line x1="222.00" y1="459.50" x2="222.00" y2="463.00" stroke="#000" stroke-width="1.1" />
<line x1="229.93" y1="459.50" x2="229.93" y2="463.80" stroke="#000" stroke-width="1.1" />
<line x1="237.85" y1="459.50" x2="237.85" y2="463.00" stroke="#000" stroke-width="1.1" />
<line x1="245.78" y1="459.50" x2="245.78" y2="463.00" stroke="#000" stroke-width="1.1" />
<line x1="253.70" y1="459.50" x2="253.70" y2="463.00" stroke="#000" stroke-width="1.1" />
<line x1="261.62" y1="459.50" x2="261.62" y2="463.00" stroke="#000" stroke-width="1.1" />
<line x1="269.55" y1="459.50" x2="269.55" y2="464.50" stroke="#000" stroke-width="1.1" />
<line x1="277.47" y1="459.50" x2="277.47" y2="463.00" stroke="#000" stroke-width="1.1" />
<line x1="285.40" y1="459.50" x2="285.40" y2="463.00" stroke="#000" stroke-width="1.1" />
<line x1="293.32" y1="459.50" x2="293.32" y2="463.00" stroke="#000" stroke-width="1.1" />
<line x1="301.25" y1="459.50" x2="301.25" y2="463.00" stroke="#000" stroke-width="1.1" />
<line x1="309.18" y1="459.50" x2="309.18" y2="463.80" stroke="#000" stroke-width="1.1" />
<line x1="317.10" y1="459.50" x2="317.10" y2="463.00" stroke="#000" stroke-width="1.1" />
<line x1="325.02" y1="459.50" x2="325.02" y2="463.00" stroke="#000" stroke-width="1.1" />
<line x1="332.95" y1="459.50" x2="332.95" y2="463.00" stroke="#000" stroke-width="1.1" />
<line x1="340.88" y1="459.50" x2="340.88" y2="463.00" stroke="#000" stroke-width="1.1" />
<line x1="348.80" y1="459.50" x2="348.80" y2="464.50" stroke="#000" stroke-width="1.1" />
<line x1="356.73" y1="459.50" x2="356.73" y2="463.00" stroke="#000" stroke-width="1.1" />
<line x1="364.65" y1="459.50" x2="364.65" y2="463.00" stroke="#000" stroke-width="1.1" />
<line x1="372.57" y1="459.50" x2="372.57" y2="463.00" stroke="#000" stroke-width="1.1" />
<line x1="380.50" y1="459.50" x2="380.50" y2="463.00" stroke="#000" stroke-width="1.1" />
<line x1="388.43" y1="459.50" x2="388.43" y2="463.80" stroke="#000" stroke-width="1.1" />
<line x1="396.35" y1="459.50" x2="396.35" y2="463.00" stroke="#000" stroke-width="1.1" />
<line x1="404.27" y1="459.50" x2="404.27" y2="463.00" stroke="#000" stroke-width="1.1" />
<line x1="412.20" y1="459.50" x2="412.20" y2="463.00" stroke="#000" stroke-width="1.1" />
<line x1="420.12" y1="459.50" x2="420.12" y2="463.00" stroke="#000" stroke-width="1.1" />
<line x1="428.05" y1="459.50" x2="428.05" y2="464.50" stroke="#000" stroke-width="1.1" />
<line x1="435.98" y1="459.50" x2="435.98" y2="463.00" stroke="#000" stroke-width="1.1" />
<line x1="443.90" y1="459.50" x2="443.90" y2="463.00" stroke="#000" stroke-width="1.1" />
<line x1="451.82" y1="459.50" x2="451.82" y2="463.00" stroke="#000" stroke-width="1.1" />
<line x1="459.75" y1="459.50" x2="459.75" y2="463.00" stroke="#000" stroke-width="1.1" />
<line x1="467.68" y1="459.50" x2="467.68" y2="463.80" stroke="#000" stroke-width="1.1" />
<line x1="475.60" y1="459.50" x2="475.60" y2="463.00" stroke="#000" stroke-width="1.1" />
<line x1="483.52" y1="459.50" x2="483.52" y2="463.00" stroke="#000" stroke-width="1.1" />
<line x1="491.45" y1="459.50" x2="491.45" y2="463.00" stroke="#000" stroke-width="1.1" />
<line x1="499.38" y1="459.50" x2="499.38" y2="463.00" stroke="#000" stroke-width="1.1" />
<line x1="507.30" y1="459.50" x2="507.30" y2="464.50" stroke="#000" stroke-width="1.1" />
<line x1="515.23" y1="459.50" x2="515.23" y2="463.00" stroke="#000" stroke-width="1.1" />
<line x1="523.15" y1="459.50" x2="523.15" y2="463.00" stroke="#000" stroke-width="1.1" />
<line x1="531.07" y1="459.50" x2="531.07" y2="463.00" stroke="#000" stroke-width="1.1" />
<line x1="539.00" y1="459.50" x2="539.00" y2="463.00" stroke="#000" stroke-width="1.1" />
<line x1="546.92" y1="459.50" x2="546.92" y2="463.80" stroke="#000" stroke-width="1.1" />
<line x1="554.85" y1="459.50" x2="554.85" y2="463.00" stroke="#000" stroke-width="1.1" />
<line x1="562.77" y1="459.50" x2="562.77" y2="463.00" stroke="#000" stroke-width="1.1" />
<line x1="570.70" y1="459.50" x2="570.70" y2="463.00" stroke="#000" stroke-width="1.1" />
<line x1="578.62" y1="459.50" x2="578.62" y2="463.00" stroke="#000" stroke-width="1.1" />
<line x1="586.55" y1="459.50" x2="586.55" y2="464.50" stroke="#000" stroke-width="1.1" />
<line x1="594.47" y1="459.50" x2="594.47" y2="463.00" stroke="#000" stroke-width="1.1" />
<line x1="602.40" y1="459.50" x2="602.40" y2="463.00" stroke="#000" stroke-width="1.1" />
<line x1="610.32" y1="459.50" x2="610.32" y2="463.00" stroke="#000" stroke-width="1.1" />
<line x1="618.25" y1="459.50" x2="618.25" y2="463.00" stroke="#000" stroke-width="1.1" />
<line x1="626.17" y1="459.50" x2="626.17" y2="463.80" stroke="#000" stroke-width="1.1" />
<line x1="634.10" y1="459.50" x2="634.10" y2="463.00" stroke="#000" stroke-width="1.1" />
<line x1="642.02" y1="459.50" x2="642.02" y2="463.00" stroke="#000" stroke-width="1.1" />
<line x1="649.95" y1="459.50" x2="649.95" y2="463.00" stroke="#000" stroke-width="1.1" />
<line x1="657.87" y1="459.50" x2="657.87" y2="463.00" stroke="#000" stroke-width="1.1" />
<line x1="665.80" y1="459.50" x2="665.80" y2="464.50" stroke="#000" stroke-width="1.1" />
<text x="29.80" y="474.50" font-size="10" text-anchor="middle" font-weight="normal" fill="#000" >3000</text>
<text x="109.05" y="474.50" font-size="10" text-anchor="middle" font-weight="normal" fill="#000" >3200</text>
<text x="188.30" y="474.50" font-size="10" text-anchor="middle" font-weight="normal" fill="#000" >3400</text>
<text x="267.55" y="474.50" font-size="10" text-anchor="middle" font-weight="normal" fill="#000" >3600</text>
<text x="346.80" y="474.50" font-size="10" text-anchor="middle" font-weight="normal" fill="#000" >3800</text>
<text x="426.05" y="474.50" font-size="10" text-anchor="middle" font-weight="normal" fill="#000" >4000</text>
<text x="505.30" y="474.50" font-size="10" text-anchor="middle" font-weight="normal" fill="#000" >4200</text>
<text x="584.55" y="474.50" font-size="10" text-anchor="middle" font-weight="normal" fill="#000" >4400</text>
<text x="345.30" y="487.80" font-size="10.5" text-anchor="middle" font-weight="normal" fill="#000" >m/z</text>
<line x1="32.90" y1="459.50" x2="32.90" y2="455.00" stroke="#111" stroke-width="1.1" />
<line x1="35.30" y1="459.50" x2="35.30" y2="458.00" stroke="#111" stroke-width="1.1" />
<line x1="36.80" y1="459.50" x2="36.80" y2="454.50" stroke="#111" stroke-width="1.1" />
<line x1="38.90" y1="459.50" x2="38.90" y2="437.50" stroke="#111" stroke-width="1.1" />
<line x1="45.70" y1="459.50" x2="45.70" y2="457.50" stroke="#111" stroke-width="1.1" />
<line x1="55.30" y1="459.50" x2="55.30" y2="445.50" stroke="#111" stroke-width="1.1" />
<line x1="86.80" y1="459.50" x2="86.80" y2="441.80" stroke="#111" stroke-width="1.1" />
<line x1="90.30" y1="459.50" x2="90.30" y2="445.00" stroke="#111" stroke-width="1.1" />
<line x1="93.60" y1="459.50" x2="93.60" y2="352.50" stroke="#111" stroke-width="1.1" />
<line x1="99.80" y1="459.50" x2="99.80" y2="412.50" stroke="#111" stroke-width="1.1" />
<line x1="103.30" y1="459.50" x2="103.30" y2="453.50" stroke="#111" stroke-width="1.1" />
<line x1="106.20" y1="459.50" x2="106.20" y2="455.50" stroke="#111" stroke-width="1.1" />
<line x1="107.70" y1="459.50" x2="107.70" y2="435.50" stroke="#111" stroke-width="1.1" />
<line x1="111.00" y1="459.50" x2="111.00" y2="457.50" stroke="#111" stroke-width="1.1" />
<line x1="121.60" y1="459.50" x2="121.60" y2="453.50" stroke="#111" stroke-width="1.1" />
<line x1="124.50" y1="459.50" x2="124.50" y2="456.50" stroke="#111" stroke-width="1.1" />
<line x1="129.00" y1="459.50" x2="129.00" y2="458.50" stroke="#111" stroke-width="1.1" />
<line x1="132.00" y1="459.50" x2="132.00" y2="458.50" stroke="#111" stroke-width="1.1" />
<line x1="151.10" y1="459.50" x2="151.10" y2="451.50" stroke="#111" stroke-width="1.1" />
<line x1="157.90" y1="459.50" x2="157.90" y2="397.90" stroke="#111" stroke-width="1.1" />
<line x1="164.60" y1="459.50" x2="164.60" y2="457.50" stroke="#111" stroke-width="1.1" />
<line x1="170.40" y1="459.50" x2="170.40" y2="457.50" stroke="#111" stroke-width="1.1" />
<line x1="175.00" y1="459.50" x2="175.00" y2="458.00" stroke="#111" stroke-width="1.1" />
<line x1="180.30" y1="459.50" x2="180.30" y2="457.50" stroke="#111" stroke-width="1.1" />
<line x1="186.20" y1="459.50" x2="186.20" y2="454.10" stroke="#111" stroke-width="1.1" />
<line x1="215.20" y1="459.50" x2="215.20" y2="432.50" stroke="#111" stroke-width="1.1" />
<line x1="222.00" y1="459.50" x2="222.00" y2="447.90" stroke="#111" stroke-width="1.1" />
<line x1="230.50" y1="459.50" x2="230.50" y2="449.10" stroke="#111" stroke-width="1.1" />
<line x1="238.50" y1="459.50" x2="238.50" y2="457.50" stroke="#111" stroke-width="1.1" />
<line x1="244.40" y1="459.50" x2="244.40" y2="453.80" stroke="#111" stroke-width="1.1" />
<line x1="280.60" y1="459.50" x2="280.60" y2="454.10" stroke="#111" stroke-width="1.1" />
<line x1="286.00" y1="459.50" x2="286.00" y2="458.00" stroke="#111" stroke-width="1.1" />
<line x1="290.00" y1="459.50" x2="290.00" y2="457.50" stroke="#111" stroke-width="1.1" />
<line x1="294.00" y1="459.50" x2="294.00" y2="454.50" stroke="#111" stroke-width="1.1" />
<line x1="298.30" y1="459.50" x2="298.30" y2="455.90" stroke="#111" stroke-width="1.1" />
<line x1="313.20" y1="459.50" x2="313.20" y2="450.50" stroke="#111" stroke-width="1.1" />
<line x1="320.40" y1="459.50" x2="320.40" y2="458.00" stroke="#111" stroke-width="1.1" />
<line x1="333.80" y1="459.50" x2="333.80" y2="458.50" stroke="#111" stroke-width="1.1" />
<line x1="345.40" y1="459.50" x2="345.40" y2="458.00" stroke="#111" stroke-width="1.1" />
<line x1="353.50" y1="459.50" x2="353.50" y2="458.00" stroke="#111" stroke-width="1.1" />
<line x1="379.90" y1="459.50" x2="379.90" y2="455.90" stroke="#111" stroke-width="1.1" />
<line x1="385.60" y1="459.50" x2="385.60" y2="455.00" stroke="#111" stroke-width="1.1" />
<line x1="396.00" y1="459.50" x2="396.00" y2="453.50" stroke="#111" stroke-width="1.1" />
<line x1="438.00" y1="459.50" x2="438.00" y2="458.00" stroke="#111" stroke-width="1.1" />
<line x1="449.70" y1="459.50" x2="449.70" y2="458.00" stroke="#111" stroke-width="1.1" />
<line x1="469.40" y1="459.50" x2="469.40" y2="456.50" stroke="#111" stroke-width="1.1" />
<line x1="475.30" y1="459.50" x2="475.30" y2="446.10" stroke="#111" stroke-width="1.1" />
<line x1="481.40" y1="459.50" x2="481.40" y2="457.50" stroke="#111" stroke-width="1.1" />
<line x1="534.10" y1="459.50" x2="534.10" y2="455.50" stroke="#111" stroke-width="1.1" />
<line x1="569.00" y1="459.50" x2="569.00" y2="458.50" stroke="#111" stroke-width="1.1" />
<line x1="596.30" y1="459.50" x2="596.30" y2="456.00" stroke="#111" stroke-width="1.1" />
<line x1="656.20" y1="459.50" x2="656.20" y2="457.50" stroke="#111" stroke-width="1.1" />
<line x1="164.30" y1="392.50" x2="164.30" y2="450.50" stroke="#8080ff" stroke-width="1.1" />
<line x1="294.40" y1="430.10" x2="294.40" y2="448.00" stroke="#8080ff" stroke-width="1.1" />
<polyline points="620.3,429 655.6,438.7 655.6,453.8" fill="none" stroke="#8080ff" stroke-width="1.1"/>
<line x1="166.70" y1="379.70" x2="166.70" y2="367.70" stroke="#707070" stroke-width="0.9" />
<line x1="166.70" y1="367.70" x2="166.70" y2="355.80" stroke="#707070" stroke-width="0.9" />
<line x1="166.70" y1="355.80" x2="160.80" y2="344.00" stroke="#707070" stroke-width="0.9" />
<line x1="166.70" y1="355.80" x2="172.60" y2="344.00" stroke="#707070" stroke-width="0.9" />
<line x1="160.80" y1="344.00" x2="160.80" y2="331.90" stroke="#707070" stroke-width="0.9" />
<line x1="160.80" y1="331.90" x2="160.80" y2="319.90" stroke="#707070" stroke-width="0.9" />
<line x1="172.60" y1="344.00" x2="172.60" y2="331.90" stroke="#707070" stroke-width="0.9" />
<line x1="172.60" y1="331.90" x2="172.60" y2="319.90" stroke="#707070" stroke-width="0.9" />
<rect x="163.20" y="376.20" width="7.00" height="7.00" fill="#0000fa" stroke="#1a1a1a" stroke-width="0.7"/>
<rect x="163.20" y="364.20" width="7.00" height="7.00" fill="#0000fa" stroke="#1a1a1a" stroke-width="0.7"/>
<circle cx="166.70" cy="355.80" r="3.50" fill="#00c832" stroke="#1a1a1a" stroke-width="0.7"/>
<circle cx="160.80" cy="344.00" r="3.50" fill="#00c832" stroke="#1a1a1a" stroke-width="0.7"/>
<circle cx="172.60" cy="344.00" r="3.50" fill="#00c832" stroke="#1a1a1a" stroke-width="0.7"/>
<rect x="157.30" y="328.40" width="7.00" height="7.00" fill="#0000fa" stroke="#1a1a1a" stroke-width="0.7"/>
<circle cx="160.80" cy="319.90" r="3.50" fill="#ffff00" stroke="#1a1a1a" stroke-width="0.7"/>
<rect x="169.10" y="328.40" width="7.00" height="7.00" fill="#0000fa" stroke="#1a1a1a" stroke-width="0.7"/>
<circle cx="172.60" cy="319.90" r="3.50" fill="#ffff00" stroke="#1a1a1a" stroke-width="0.7"/>
<path d="M175.20,379.70 L182.00,376.30 L182.00,383.10 Z" fill="#fa0000" stroke="#1a1a1a" stroke-width="0.5"/>
<line x1="293.50" y1="421.50" x2="293.50" y2="410.00" stroke="#707070" stroke-width="0.9" />
<line x1="293.50" y1="410.00" x2="293.50" y2="398.70" stroke="#707070" stroke-width="0.9" />
<line x1="293.50" y1="398.70" x2="287.70" y2="387.00" stroke="#707070" stroke-width="0.9" />
<line x1="293.50" y1="398.70" x2="299.40" y2="387.00" stroke="#707070" stroke-width="0.9" />
<line x1="287.70" y1="387.00" x2="287.70" y2="375.60" stroke="#707070" stroke-width="0.9" />
<line x1="287.70" y1="375.60" x2="287.70" y2="364.20" stroke="#707070" stroke-width="0.9" />
<line x1="299.40" y1="387.00" x2="299.40" y2="375.60" stroke="#707070" stroke-width="0.9" />
<line x1="299.40" y1="375.60" x2="299.40" y2="364.20" stroke="#707070" stroke-width="0.9" />
<line x1="287.70" y1="364.20" x2="287.70" y2="352.80" stroke="#707070" stroke-width="0.9" />
<line x1="293.50" y1="421.50" x2="305.70" y2="421.50" stroke="#707070" stroke-width="0.9" />
<rect x="290.00" y="418.00" width="7.00" height="7.00" fill="#0000fa" stroke="#1a1a1a" stroke-width="0.7"/>
<rect x="290.00" y="406.50" width="7.00" height="7.00" fill="#0000fa" stroke="#1a1a1a" stroke-width="0.7"/>
<circle cx="293.50" cy="398.70" r="3.50" fill="#00c832" stroke="#1a1a1a" stroke-width="0.7"/>
<circle cx="287.70" cy="387.00" r="3.50" fill="#00c832" stroke="#1a1a1a" stroke-width="0.7"/>
<circle cx="299.40" cy="387.00" r="3.50" fill="#00c832" stroke="#1a1a1a" stroke-width="0.7"/>
<rect x="284.20" y="372.10" width="7.00" height="7.00" fill="#0000fa" stroke="#1a1a1a" stroke-width="0.7"/>
<circle cx="287.70" cy="364.20" r="3.50" fill="#ffff00" stroke="#1a1a1a" stroke-width="0.7"/>
<rect x="295.90" y="372.10" width="7.00" height="7.00" fill="#0000fa" stroke="#1a1a1a" stroke-width="0.7"/>
<circle cx="299.40" cy="364.20" r="3.50" fill="#ffff00" stroke="#1a1a1a" stroke-width="0.7"/>
<path d="M287.70,349.35 L291.15,352.80 L287.70,356.25 L284.25,352.80 Z" fill="#c800c8" stroke="#1a1a1a" stroke-width="0.6"/>
<path d="M302.30,421.50 L309.10,418.10 L309.10,424.90 Z" fill="#fa0000" stroke="#1a1a1a" stroke-width="0.5"/>
<line x1="397.10" y1="446.50" x2="397.10" y2="435.00" stroke="#707070" stroke-width="0.9" />
<line x1="397.10" y1="435.00" x2="397.10" y2="423.50" stroke="#707070" stroke-width="0.9" />
<line x1="397.10" y1="423.50" x2="391.20" y2="412.00" stroke="#707070" stroke-width="0.9" />
<line x1="397.10" y1="423.50" x2="402.90" y2="412.00" stroke="#707070" stroke-width="0.9" />
<line x1="391.20" y1="412.00" x2="391.20" y2="400.40" stroke="#707070" stroke-width="0.9" />
<line x1="391.20" y1="400.40" x2="391.20" y2="389.00" stroke="#707070" stroke-width="0.9" />
<line x1="402.90" y1="412.00" x2="402.90" y2="400.40" stroke="#707070" stroke-width="0.9" />
<line x1="402.90" y1="400.40" x2="402.90" y2="389.00" stroke="#707070" stroke-width="0.9" />
<line x1="391.20" y1="389.00" x2="391.20" y2="377.40" stroke="#707070" stroke-width="0.9" />
<line x1="402.90" y1="389.00" x2="402.90" y2="377.40" stroke="#707070" stroke-width="0.9" />
<line x1="397.10" y1="446.50" x2="408.60" y2="446.50" stroke="#707070" stroke-width="0.9" />
<rect x="393.60" y="443.00" width="7.00" height="7.00" fill="#0000fa" stroke="#1a1a1a" stroke-width="0.7"/>
<rect x="393.60" y="431.50" width="7.00" height="7.00" fill="#0000fa" stroke="#1a1a1a" stroke-width="0.7"/>
<circle cx="397.10" cy="423.50" r="3.50" fill="#00c832" stroke="#1a1a1a" stroke-width="0.7"/>
<circle cx="391.20" cy="412.00" r="3.50" fill="#00c832" stroke="#1a1a1a" stroke-width="0.7"/>
<circle cx="402.90" cy="412.00" r="3.50" fill="#00c832" stroke="#1a1a1a" stroke-width="0.7"/>
<rect x="387.70" y="396.90" width="7.00" height="7.00" fill="#0000fa" stroke="#1a1a1a" stroke-width="0.7"/>
<circle cx="391.20" cy="389.00" r="3.50" fill="#ffff00" stroke="#1a1a1a" stroke-width="0.7"/>
<rect x="399.40" y="396.90" width="7.00" height="7.00" fill="#0000fa" stroke="#1a1a1a" stroke-width="0.7"/>
<circle cx="402.90" cy="389.00" r="3.50" fill="#ffff00" stroke="#1a1a1a" stroke-width="0.7"/>
<path d="M391.20,373.95 L394.65,377.40 L391.20,380.85 L387.75,377.40 Z" fill="#c800c8" stroke="#1a1a1a" stroke-width="0.6"/>
<path d="M402.90,373.95 L406.35,377.40 L402.90,380.85 L399.45,377.40 Z" fill="#c800c8" stroke="#1a1a1a" stroke-width="0.6"/>
<path d="M405.20,446.50 L412.00,443.10 L412.00,449.90 Z" fill="#fa0000" stroke="#1a1a1a" stroke-width="0.5"/>
<line x1="618.90" y1="421.60" x2="618.90" y2="410.20" stroke="#707070" stroke-width="0.9" />
<line x1="618.90" y1="410.20" x2="618.90" y2="398.40" stroke="#707070" stroke-width="0.9" />
<line x1="618.90" y1="398.40" x2="610.60" y2="387.00" stroke="#707070" stroke-width="0.9" />
<line x1="618.90" y1="398.40" x2="627.30" y2="387.00" stroke="#707070" stroke-width="0.9" />
<line x1="610.60" y1="387.00" x2="610.60" y2="375.70" stroke="#707070" stroke-width="0.9" />
<line x1="610.60" y1="375.70" x2="610.60" y2="364.00" stroke="#707070" stroke-width="0.9" />
<line x1="627.30" y1="387.00" x2="622.00" y2="375.70" stroke="#707070" stroke-width="0.9" />
<line x1="622.00" y1="375.70" x2="622.00" y2="364.00" stroke="#707070" stroke-width="0.9" />
<line x1="627.30" y1="387.00" x2="633.40" y2="375.70" stroke="#707070" stroke-width="0.9" />
<line x1="633.40" y1="375.70" x2="633.40" y2="364.00" stroke="#707070" stroke-width="0.9" />
<line x1="610.60" y1="364.00" x2="610.60" y2="352.60" stroke="#707070" stroke-width="0.9" />
<line x1="622.00" y1="364.00" x2="622.00" y2="352.60" stroke="#707070" stroke-width="0.9" />
<line x1="633.40" y1="364.00" x2="633.40" y2="352.60" stroke="#707070" stroke-width="0.9" />
<line x1="618.90" y1="421.60" x2="630.70" y2="421.60" stroke="#707070" stroke-width="0.9" />
<rect x="615.40" y="418.10" width="7.00" height="7.00" fill="#0000fa" stroke="#1a1a1a" stroke-width="0.7"/>
<rect x="615.40" y="406.70" width="7.00" height="7.00" fill="#0000fa" stroke="#1a1a1a" stroke-width="0.7"/>
<circle cx="618.90" cy="398.40" r="3.50" fill="#00c832" stroke="#1a1a1a" stroke-width="0.7"/>
<circle cx="610.60" cy="387.00" r="3.50" fill="#00c832" stroke="#1a1a1a" stroke-width="0.7"/>
<circle cx="627.30" cy="387.00" r="3.50" fill="#00c832" stroke="#1a1a1a" stroke-width="0.7"/>
<rect x="607.10" y="372.20" width="7.00" height="7.00" fill="#0000fa" stroke="#1a1a1a" stroke-width="0.7"/>
<circle cx="610.60" cy="364.00" r="3.50" fill="#ffff00" stroke="#1a1a1a" stroke-width="0.7"/>
<rect x="618.50" y="372.20" width="7.00" height="7.00" fill="#0000fa" stroke="#1a1a1a" stroke-width="0.7"/>
<circle cx="622.00" cy="364.00" r="3.50" fill="#ffff00" stroke="#1a1a1a" stroke-width="0.7"/>
<rect x="629.90" y="372.20" width="7.00" height="7.00" fill="#0000fa" stroke="#1a1a1a" stroke-width="0.7"/>
<circle cx="633.40" cy="364.00" r="3.50" fill="#ffff00" stroke="#1a1a1a" stroke-width="0.7"/>
<path d="M610.60,349.15 L614.05,352.60 L610.60,356.05 L607.15,352.60 Z" fill="#c800c8" stroke="#1a1a1a" stroke-width="0.6"/>
<path d="M622.00,349.15 L625.45,352.60 L622.00,356.05 L618.55,352.60 Z" fill="#c800c8" stroke="#1a1a1a" stroke-width="0.6"/>
<path d="M633.40,349.15 L636.85,352.60 L633.40,356.05 L629.95,352.60 Z" fill="#c800c8" stroke="#1a1a1a" stroke-width="0.6"/>
<path d="M627.30,421.60 L634.10,418.20 L634.10,425.00 Z" fill="#fa0000" stroke="#1a1a1a" stroke-width="0.5"/>
<text x="0.00" y="513.10" font-size="19.3" text-anchor="start" font-weight="bold" fill="#000" >C</text>
<text x="43.00" y="543.10" font-size="14.2" text-anchor="start" font-weight="normal" fill="#000" >14 min - 28 min</text>
<rect x="475.7" y="519.4" width="162.1" height="37.6" fill="none" stroke="#222" stroke-width="1.3"/>
<text x="485.00" y="542.90" fill="#000"><tspan font-size="14.1">C</tspan><tspan font-size="10.7">441</tspan><tspan font-size="14.1">*TSQHLL</tspan><tspan font-size="14.1" fill="#e8141e">N</tspan><tspan font-size="10.7" fill="#e8141e">448</tspan><tspan font-size="14.1">R</tspan><tspan font-size="10.7">449</tspan></text>
<text transform="translate(10.00,640.00) rotate(-90)" font-size="10.3" text-anchor="middle" fill="#000">Relative Abundance</text>
<line x1="34.50" y1="585.50" x2="34.50" y2="694.00" stroke="#000" stroke-width="1.3" />
<line x1="33.90" y1="693.40" x2="668.00" y2="693.40" stroke="#000" stroke-width="1.3" />
<line x1="29.30" y1="693.40" x2="34.50" y2="693.40" stroke="#000" stroke-width="1.2" />
<text x="27.40" y="697.80" font-size="10" text-anchor="end" font-weight="normal" fill="#000" >0</text>
<line x1="31.50" y1="688.03" x2="34.50" y2="688.03" stroke="#000" stroke-width="1.2" />
<line x1="31.50" y1="682.66" x2="34.50" y2="682.66" stroke="#000" stroke-width="1.2" />
<line x1="31.50" y1="677.29" x2="34.50" y2="677.29" stroke="#000" stroke-width="1.2" />
<line x1="29.30" y1="671.92" x2="34.50" y2="671.92" stroke="#000" stroke-width="1.2" />
<text x="28.90" y="676.32" font-size="10" text-anchor="end" font-weight="normal" fill="#000" >20</text>
<line x1="31.50" y1="666.55" x2="34.50" y2="666.55" stroke="#000" stroke-width="1.2" />
<line x1="31.50" y1="661.18" x2="34.50" y2="661.18" stroke="#000" stroke-width="1.2" />
<line x1="31.50" y1="655.81" x2="34.50" y2="655.81" stroke="#000" stroke-width="1.2" />
<line x1="29.30" y1="650.44" x2="34.50" y2="650.44" stroke="#000" stroke-width="1.2" />
<text x="28.90" y="654.84" font-size="10" text-anchor="end" font-weight="normal" fill="#000" >40</text>
<line x1="31.50" y1="645.07" x2="34.50" y2="645.07" stroke="#000" stroke-width="1.2" />
<line x1="31.50" y1="639.70" x2="34.50" y2="639.70" stroke="#000" stroke-width="1.2" />
<line x1="31.50" y1="634.33" x2="34.50" y2="634.33" stroke="#000" stroke-width="1.2" />
<line x1="29.30" y1="628.96" x2="34.50" y2="628.96" stroke="#000" stroke-width="1.2" />
<text x="28.90" y="633.36" font-size="10" text-anchor="end" font-weight="normal" fill="#000" >60</text>
<line x1="31.50" y1="623.59" x2="34.50" y2="623.59" stroke="#000" stroke-width="1.2" />
<line x1="31.50" y1="618.22" x2="34.50" y2="618.22" stroke="#000" stroke-width="1.2" />
<line x1="31.50" y1="612.85" x2="34.50" y2="612.85" stroke="#000" stroke-width="1.2" />
<line x1="29.30" y1="607.48" x2="34.50" y2="607.48" stroke="#000" stroke-width="1.2" />
<text x="28.90" y="611.88" font-size="10" text-anchor="end" font-weight="normal" fill="#000" >80</text>
<line x1="31.50" y1="602.11" x2="34.50" y2="602.11" stroke="#000" stroke-width="1.2" />
<line x1="31.50" y1="596.74" x2="34.50" y2="596.74" stroke="#000" stroke-width="1.2" />
<line x1="31.50" y1="591.37" x2="34.50" y2="591.37" stroke="#000" stroke-width="1.2" />
<line x1="29.30" y1="586.00" x2="34.50" y2="586.00" stroke="#000" stroke-width="1.2" />
<text x="30.10" y="590.40" font-size="10" text-anchor="end" font-weight="normal" fill="#000" >100</text>
<line x1="34.50" y1="693.40" x2="34.50" y2="696.70" stroke="#000" stroke-width="1.1" />
<line x1="37.25" y1="693.40" x2="37.25" y2="695.40" stroke="#000" stroke-width="1.1" />
<line x1="40.01" y1="693.40" x2="40.01" y2="695.40" stroke="#000" stroke-width="1.1" />
<line x1="42.76" y1="693.40" x2="42.76" y2="695.40" stroke="#000" stroke-width="1.1" />
<line x1="45.52" y1="693.40" x2="45.52" y2="695.40" stroke="#000" stroke-width="1.1" />
<line x1="48.27" y1="693.40" x2="48.27" y2="696.70" stroke="#000" stroke-width="1.1" />
<line x1="51.03" y1="693.40" x2="51.03" y2="695.40" stroke="#000" stroke-width="1.1" />
<line x1="53.78" y1="693.40" x2="53.78" y2="695.40" stroke="#000" stroke-width="1.1" />
<line x1="56.53" y1="693.40" x2="56.53" y2="695.40" stroke="#000" stroke-width="1.1" />
<line x1="59.29" y1="693.40" x2="59.29" y2="695.40" stroke="#000" stroke-width="1.1" />
<line x1="62.04" y1="693.40" x2="62.04" y2="698.40" stroke="#000" stroke-width="1.1" />
<line x1="64.80" y1="693.40" x2="64.80" y2="695.40" stroke="#000" stroke-width="1.1" />
<line x1="67.55" y1="693.40" x2="67.55" y2="695.40" stroke="#000" stroke-width="1.1" />
<line x1="70.31" y1="693.40" x2="70.31" y2="695.40" stroke="#000" stroke-width="1.1" />
<line x1="73.06" y1="693.40" x2="73.06" y2="695.40" stroke="#000" stroke-width="1.1" />
<line x1="75.82" y1="693.40" x2="75.82" y2="696.70" stroke="#000" stroke-width="1.1" />
<line x1="78.57" y1="693.40" x2="78.57" y2="695.40" stroke="#000" stroke-width="1.1" />
<line x1="81.32" y1="693.40" x2="81.32" y2="695.40" stroke="#000" stroke-width="1.1" />
<line x1="84.08" y1="693.40" x2="84.08" y2="695.40" stroke="#000" stroke-width="1.1" />
<line x1="86.83" y1="693.40" x2="86.83" y2="695.40" stroke="#000" stroke-width="1.1" />
<line x1="89.59" y1="693.40" x2="89.59" y2="696.70" stroke="#000" stroke-width="1.1" />
<line x1="92.34" y1="693.40" x2="92.34" y2="695.40" stroke="#000" stroke-width="1.1" />
<line x1="95.10" y1="693.40" x2="95.10" y2="695.40" stroke="#000" stroke-width="1.1" />
<line x1="97.85" y1="693.40" x2="97.85" y2="695.40" stroke="#000" stroke-width="1.1" />
<line x1="100.60" y1="693.40" x2="100.60" y2="695.40" stroke="#000" stroke-width="1.1" />
<line x1="103.36" y1="693.40" x2="103.36" y2="696.70" stroke="#000" stroke-width="1.1" />
<line x1="106.11" y1="693.40" x2="106.11" y2="695.40" stroke="#000" stroke-width="1.1" />
<line x1="108.87" y1="693.40" x2="108.87" y2="695.40" stroke="#000" stroke-width="1.1" />
<line x1="111.62" y1="693.40" x2="111.62" y2="695.40" stroke="#000" stroke-width="1.1" />
<line x1="114.38" y1="693.40" x2="114.38" y2="695.40" stroke="#000" stroke-width="1.1" />
<line x1="117.13" y1="693.40" x2="117.13" y2="698.40" stroke="#000" stroke-width="1.1" />
<line x1="119.88" y1="693.40" x2="119.88" y2="695.40" stroke="#000" stroke-width="1.1" />
<line x1="122.64" y1="693.40" x2="122.64" y2="695.40" stroke="#000" stroke-width="1.1" />
<line x1="125.39" y1="693.40" x2="125.39" y2="695.40" stroke="#000" stroke-width="1.1" />
<line x1="128.15" y1="693.40" x2="128.15" y2="695.40" stroke="#000" stroke-width="1.1" />
<line x1="130.90" y1="693.40" x2="130.90" y2="696.70" stroke="#000" stroke-width="1.1" />
<line x1="133.66" y1="693.40" x2="133.66" y2="695.40" stroke="#000" stroke-width="1.1" />
<line x1="136.41" y1="693.40" x2="136.41" y2="695.40" stroke="#000" stroke-width="1.1" />
<line x1="139.17" y1="693.40" x2="139.17" y2="695.40" stroke="#000" stroke-width="1.1" />
<line x1="141.92" y1="693.40" x2="141.92" y2="695.40" stroke="#000" stroke-width="1.1" />
<line x1="144.67" y1="693.40" x2="144.67" y2="696.70" stroke="#000" stroke-width="1.1" />
<line x1="147.43" y1="693.40" x2="147.43" y2="695.40" stroke="#000" stroke-width="1.1" />
<line x1="150.18" y1="693.40" x2="150.18" y2="695.40" stroke="#000" stroke-width="1.1" />
<line x1="152.94" y1="693.40" x2="152.94" y2="695.40" stroke="#000" stroke-width="1.1" />
<line x1="155.69" y1="693.40" x2="155.69" y2="695.40" stroke="#000" stroke-width="1.1" />
<line x1="158.45" y1="693.40" x2="158.45" y2="696.70" stroke="#000" stroke-width="1.1" />
<line x1="161.20" y1="693.40" x2="161.20" y2="695.40" stroke="#000" stroke-width="1.1" />
<line x1="163.95" y1="693.40" x2="163.95" y2="695.40" stroke="#000" stroke-width="1.1" />
<line x1="166.71" y1="693.40" x2="166.71" y2="695.40" stroke="#000" stroke-width="1.1" />
<line x1="169.46" y1="693.40" x2="169.46" y2="695.40" stroke="#000" stroke-width="1.1" />
<line x1="172.22" y1="693.40" x2="172.22" y2="698.40" stroke="#000" stroke-width="1.1" />
<line x1="174.97" y1="693.40" x2="174.97" y2="695.40" stroke="#000" stroke-width="1.1" />
<line x1="177.73" y1="693.40" x2="177.73" y2="695.40" stroke="#000" stroke-width="1.1" />
<line x1="180.48" y1="693.40" x2="180.48" y2="695.40" stroke="#000" stroke-width="1.1" />
<line x1="183.23" y1="693.40" x2="183.23" y2="695.40" stroke="#000" stroke-width="1.1" />
<line x1="185.99" y1="693.40" x2="185.99" y2="696.70" stroke="#000" stroke-width="1.1" />
<line x1="188.74" y1="693.40" x2="188.74" y2="695.40" stroke="#000" stroke-width="1.1" />
<line x1="191.50" y1="693.40" x2="191.50" y2="695.40" stroke="#000" stroke-width="1.1" />
<line x1="194.25" y1="693.40" x2="194.25" y2="695.40" stroke="#000" stroke-width="1.1" />
<line x1="197.01" y1="693.40" x2="197.01" y2="695.40" stroke="#000" stroke-width="1.1" />
<line x1="199.76" y1="693.40" x2="199.76" y2="696.70" stroke="#000" stroke-width="1.1" />
<line x1="202.52" y1="693.40" x2="202.52" y2="695.40" stroke="#000" stroke-width="1.1" />
<line x1="205.27" y1="693.40" x2="205.27" y2="695.40" stroke="#000" stroke-width="1.1" />
<line x1="208.02" y1="693.40" x2="208.02" y2="695.40" stroke="#000" stroke-width="1.1" />
<line x1="210.78" y1="693.40" x2="210.78" y2="695.40" stroke="#000" stroke-width="1.1" />
<line x1="213.53" y1="693.40" x2="213.53" y2="696.70" stroke="#000" stroke-width="1.1" />
<line x1="216.29" y1="693.40" x2="216.29" y2="695.40" stroke="#000" stroke-width="1.1" />
<line x1="219.04" y1="693.40" x2="219.04" y2="695.40" stroke="#000" stroke-width="1.1" />
<line x1="221.80" y1="693.40" x2="221.80" y2="695.40" stroke="#000" stroke-width="1.1" />
<line x1="224.55" y1="693.40" x2="224.55" y2="695.40" stroke="#000" stroke-width="1.1" />
<line x1="227.30" y1="693.40" x2="227.30" y2="698.40" stroke="#000" stroke-width="1.1" />
<line x1="230.06" y1="693.40" x2="230.06" y2="695.40" stroke="#000" stroke-width="1.1" />
<line x1="232.81" y1="693.40" x2="232.81" y2="695.40" stroke="#000" stroke-width="1.1" />
<line x1="235.57" y1="693.40" x2="235.57" y2="695.40" stroke="#000" stroke-width="1.1" />
<line x1="238.32" y1="693.40" x2="238.32" y2="695.40" stroke="#000" stroke-width="1.1" />
<line x1="241.08" y1="693.40" x2="241.08" y2="696.70" stroke="#000" stroke-width="1.1" />
<line x1="243.83" y1="693.40" x2="243.83" y2="695.40" stroke="#000" stroke-width="1.1" />
<line x1="246.58" y1="693.40" x2="246.58" y2="695.40" stroke="#000" stroke-width="1.1" />
<line x1="249.34" y1="693.40" x2="249.34" y2="695.40" stroke="#000" stroke-width="1.1" />
<line x1="252.09" y1="693.40" x2="252.09" y2="695.40" stroke="#000" stroke-width="1.1" />
<line x1="254.85" y1="693.40" x2="254.85" y2="696.70" stroke="#000" stroke-width="1.1" />
<line x1="257.60" y1="693.40" x2="257.60" y2="695.40" stroke="#000" stroke-width="1.1" />
<line x1="260.36" y1="693.40" x2="260.36" y2="695.40" stroke="#000" stroke-width="1.1" />
<line x1="263.11" y1="693.40" x2="263.11" y2="695.40" stroke="#000" stroke-width="1.1" />
<line x1="265.87" y1="693.40" x2="265.87" y2="695.40" stroke="#000" stroke-width="1.1" />
<line x1="268.62" y1="693.40" x2="268.62" y2="696.70" stroke="#000" stroke-width="1.1" />
<line x1="271.37" y1="693.40" x2="271.37" y2="695.40" stroke="#000" stroke-width="1.1" />
<line x1="274.13" y1="693.40" x2="274.13" y2="695.40" stroke="#000" stroke-width="1.1" />
<line x1="276.88" y1="693.40" x2="276.88" y2="695.40" stroke="#000" stroke-width="1.1" />
<line x1="279.64" y1="693.40" x2="279.64" y2="695.40" stroke="#000" stroke-width="1.1" />
<line x1="282.39" y1="693.40" x2="282.39" y2="698.40" stroke="#000" stroke-width="1.1" />
<line x1="285.15" y1="693.40" x2="285.15" y2="695.40" stroke="#000" stroke-width="1.1" />
<line x1="287.90" y1="693.40" x2="287.90" y2="695.40" stroke="#000" stroke-width="1.1" />
<line x1="290.65" y1="693.40" x2="290.65" y2="695.40" stroke="#000" stroke-width="1.1" />
<line x1="293.41" y1="693.40" x2="293.41" y2="695.40" stroke="#000" stroke-width="1.1" />
<line x1="296.16" y1="693.40" x2="296.16" y2="696.70" stroke="#000" stroke-width="1.1" />
<line x1="298.92" y1="693.40" x2="298.92" y2="695.40" stroke="#000" stroke-width="1.1" />
<line x1="301.67" y1="693.40" x2="301.67" y2="695.40" stroke="#000" stroke-width="1.1" />
<line x1="304.43" y1="693.40" x2="304.43" y2="695.40" stroke="#000" stroke-width="1.1" />
<line x1="307.18" y1="693.40" x2="307.18" y2="695.40" stroke="#000" stroke-width="1.1" />
<line x1="309.93" y1="693.40" x2="309.93" y2="696.70" stroke="#000" stroke-width="1.1" />
<line x1="312.69" y1="693.40" x2="312.69" y2="695.40" stroke="#000" stroke-width="1.1" />
<line x1="315.44" y1="693.40" x2="315.44" y2="695.40" stroke="#000" stroke-width="1.1" />
<line x1="318.20" y1="693.40" x2="318.20" y2="695.40" stroke="#000" stroke-width="1.1" />
<line x1="320.95" y1="693.40" x2="320.95" y2="695.40" stroke="#000" stroke-width="1.1" />
<line x1="323.71" y1="693.40" x2="323.71" y2="696.70" stroke="#000" stroke-width="1.1" />
<line x1="326.46" y1="693.40" x2="326.46" y2="695.40" stroke="#000" stroke-width="1.1" />
<line x1="329.22" y1="693.40" x2="329.22" y2="695.40" stroke="#000" stroke-width="1.1" />
<line x1="331.97" y1="693.40" x2="331.97" y2="695.40" stroke="#000" stroke-width="1.1" />
<line x1="334.72" y1="693.40" x2="334.72" y2="695.40" stroke="#000" stroke-width="1.1" />
<line x1="337.48" y1="693.40" x2="337.48" y2="698.40" stroke="#000" stroke-width="1.1" />
<line x1="340.23" y1="693.40" x2="340.23" y2="695.40" stroke="#000" stroke-width="1.1" />
<line x1="342.99" y1="693.40" x2="342.99" y2="695.40" stroke="#000" stroke-width="1.1" />
<line x1="345.74" y1="693.40" x2="345.74" y2="695.40" stroke="#000" stroke-width="1.1" />
<line x1="348.50" y1="693.40" x2="348.50" y2="695.40" stroke="#000" stroke-width="1.1" />
<line x1="351.25" y1="693.40" x2="351.25" y2="696.70" stroke="#000" stroke-width="1.1" />
<line x1="354.00" y1="693.40" x2="354.00" y2="695.40" stroke="#000" stroke-width="1.1" />
<line x1="356.76" y1="693.40" x2="356.76" y2="695.40" stroke="#000" stroke-width="1.1" />
<line x1="359.51" y1="693.40" x2="359.51" y2="695.40" stroke="#000" stroke-width="1.1" />
<line x1="362.27" y1="693.40" x2="362.27" y2="695.40" stroke="#000" stroke-width="1.1" />
<line x1="365.02" y1="693.40" x2="365.02" y2="696.70" stroke="#000" stroke-width="1.1" />
<line x1="367.78" y1="693.40" x2="367.78" y2="695.40" stroke="#000" stroke-width="1.1" />
<line x1="370.53" y1="693.40" x2="370.53" y2="695.40" stroke="#000" stroke-width="1.1" />
<line x1="373.28" y1="693.40" x2="373.28" y2="695.40" stroke="#000" stroke-width="1.1" />
<line x1="376.04" y1="693.40" x2="376.04" y2="695.40" stroke="#000" stroke-width="1.1" />
<line x1="378.79" y1="693.40" x2="378.79" y2="696.70" stroke="#000" stroke-width="1.1" />
<line x1="381.55" y1="693.40" x2="381.55" y2="695.40" stroke="#000" stroke-width="1.1" />
<line x1="384.30" y1="693.40" x2="384.30" y2="695.40" stroke="#000" stroke-width="1.1" />
<line x1="387.06" y1="693.40" x2="387.06" y2="695.40" stroke="#000" stroke-width="1.1" />
<line x1="389.81" y1="693.40" x2="389.81" y2="695.40" stroke="#000" stroke-width="1.1" />
<line x1="392.57" y1="693.40" x2="392.57" y2="698.40" stroke="#000" stroke-width="1.1" />
<line x1="395.32" y1="693.40" x2="395.32" y2="695.40" stroke="#000" stroke-width="1.1" />
<line x1="398.07" y1="693.40" x2="398.07" y2="695.40" stroke="#000" stroke-width="1.1" />
<line x1="400.83" y1="693.40" x2="400.83" y2="695.40" stroke="#000" stroke-width="1.1" />
<line x1="403.58" y1="693.40" x2="403.58" y2="695.40" stroke="#000" stroke-width="1.1" />
<line x1="406.34" y1="693.40" x2="406.34" y2="696.70" stroke="#000" stroke-width="1.1" />
<line x1="409.09" y1="693.40" x2="409.09" y2="695.40" stroke="#000" stroke-width="1.1" />
<line x1="411.85" y1="693.40" x2="411.85" y2="695.40" stroke="#000" stroke-width="1.1" />
<line x1="414.60" y1="693.40" x2="414.60" y2="695.40" stroke="#000" stroke-width="1.1" />
<line x1="417.35" y1="693.40" x2="417.35" y2="695.40" stroke="#000" stroke-width="1.1" />
<line x1="420.11" y1="693.40" x2="420.11" y2="696.70" stroke="#000" stroke-width="1.1" />
<line x1="422.86" y1="693.40" x2="422.86" y2="695.40" stroke="#000" stroke-width="1.1" />
<line x1="425.62" y1="693.40" x2="425.62" y2="695.40" stroke="#000" stroke-width="1.1" />
<line x1="428.37" y1="693.40" x2="428.37" y2="695.40" stroke="#000" stroke-width="1.1" />
<line x1="431.13" y1="693.40" x2="431.13" y2="695.40" stroke="#000" stroke-width="1.1" />
<line x1="433.88" y1="693.40" x2="433.88" y2="696.70" stroke="#000" stroke-width="1.1" />
<line x1="436.63" y1="693.40" x2="436.63" y2="695.40" stroke="#000" stroke-width="1.1" />
<line x1="439.39" y1="693.40" x2="439.39" y2="695.40" stroke="#000" stroke-width="1.1" />
<line x1="442.14" y1="693.40" x2="442.14" y2="695.40" stroke="#000" stroke-width="1.1" />
<line x1="444.90" y1="693.40" x2="444.90" y2="695.40" stroke="#000" stroke-width="1.1" />
<line x1="447.65" y1="693.40" x2="447.65" y2="698.40" stroke="#000" stroke-width="1.1" />
<line x1="450.41" y1="693.40" x2="450.41" y2="695.40" stroke="#000" stroke-width="1.1" />
<line x1="453.16" y1="693.40" x2="453.16" y2="695.40" stroke="#000" stroke-width="1.1" />
<line x1="455.92" y1="693.40" x2="455.92" y2="695.40" stroke="#000" stroke-width="1.1" />
<line x1="458.67" y1="693.40" x2="458.67" y2="695.40" stroke="#000" stroke-width="1.1" />
<line x1="461.42" y1="693.40" x2="461.42" y2="696.70" stroke="#000" stroke-width="1.1" />
<line x1="464.18" y1="693.40" x2="464.18" y2="695.40" stroke="#000" stroke-width="1.1" />
<line x1="466.93" y1="693.40" x2="466.93" y2="695.40" stroke="#000" stroke-width="1.1" />
<line x1="469.69" y1="693.40" x2="469.69" y2="695.40" stroke="#000" stroke-width="1.1" />
<line x1="472.44" y1="693.40" x2="472.44" y2="695.40" stroke="#000" stroke-width="1.1" />
<line x1="475.20" y1="693.40" x2="475.20" y2="696.70" stroke="#000" stroke-width="1.1" />
<line x1="477.95" y1="693.40" x2="477.95" y2="695.40" stroke="#000" stroke-width="1.1" />
<line x1="480.70" y1="693.40" x2="480.70" y2="695.40" stroke="#000" stroke-width="1.1" />
<line x1="483.46" y1="693.40" x2="483.46" y2="695.40" stroke="#000" stroke-width="1.1" />
<line x1="486.21" y1="693.40" x2="486.21" y2="695.40" stroke="#000" stroke-width="1.1" />
<line x1="488.97" y1="693.40" x2="488.97" y2="696.70" stroke="#000" stroke-width="1.1" />
<line x1="491.72" y1="693.40" x2="491.72" y2="695.40" stroke="#000" stroke-width="1.1" />
<line x1="494.48" y1="693.40" x2="494.48" y2="695.40" stroke="#000" stroke-width="1.1" />
<line x1="497.23" y1="693.40" x2="497.23" y2="695.40" stroke="#000" stroke-width="1.1" />
<line x1="499.98" y1="693.40" x2="499.98" y2="695.40" stroke="#000" stroke-width="1.1" />
<line x1="502.74" y1="693.40" x2="502.74" y2="698.40" stroke="#000" stroke-width="1.1" />
<line x1="505.49" y1="693.40" x2="505.49" y2="695.40" stroke="#000" stroke-width="1.1" />
<line x1="508.25" y1="693.40" x2="508.25" y2="695.40" stroke="#000" stroke-width="1.1" />
<line x1="511.00" y1="693.40" x2="511.00" y2="695.40" stroke="#000" stroke-width="1.1" />
<line x1="513.76" y1="693.40" x2="513.76" y2="695.40" stroke="#000" stroke-width="1.1" />
<line x1="516.51" y1="693.40" x2="516.51" y2="696.70" stroke="#000" stroke-width="1.1" />
<line x1="519.27" y1="693.40" x2="519.27" y2="695.40" stroke="#000" stroke-width="1.1" />
<line x1="522.02" y1="693.40" x2="522.02" y2="695.40" stroke="#000" stroke-width="1.1" />
<line x1="524.77" y1="693.40" x2="524.77" y2="695.40" stroke="#000" stroke-width="1.1" />
<line x1="527.53" y1="693.40" x2="527.53" y2="695.40" stroke="#000" stroke-width="1.1" />
<line x1="530.28" y1="693.40" x2="530.28" y2="696.70" stroke="#000" stroke-width="1.1" />
<line x1="533.04" y1="693.40" x2="533.04" y2="695.40" stroke="#000" stroke-width="1.1" />
<line x1="535.79" y1="693.40" x2="535.79" y2="695.40" stroke="#000" stroke-width="1.1" />
<line x1="538.55" y1="693.40" x2="538.55" y2="695.40" stroke="#000" stroke-width="1.1" />
<line x1="541.30" y1="693.40" x2="541.30" y2="695.40" stroke="#000" stroke-width="1.1" />
<line x1="544.05" y1="693.40" x2="544.05" y2="696.70" stroke="#000" stroke-width="1.1" />
<line x1="546.81" y1="693.40" x2="546.81" y2="695.40" stroke="#000" stroke-width="1.1" />
<line x1="549.56" y1="693.40" x2="549.56" y2="695.40" stroke="#000" stroke-width="1.1" />
<line x1="552.32" y1="693.40" x2="552.32" y2="695.40" stroke="#000" stroke-width="1.1" />
<line x1="555.07" y1="693.40" x2="555.07" y2="695.40" stroke="#000" stroke-width="1.1" />
<line x1="557.83" y1="693.40" x2="557.83" y2="698.40" stroke="#000" stroke-width="1.1" />
<line x1="560.58" y1="693.40" x2="560.58" y2="695.40" stroke="#000" stroke-width="1.1" />
<line x1="563.33" y1="693.40" x2="563.33" y2="695.40" stroke="#000" stroke-width="1.1" />
<line x1="566.09" y1="693.40" x2="566.09" y2="695.40" stroke="#000" stroke-width="1.1" />
<line x1="568.84" y1="693.40" x2="568.84" y2="695.40" stroke="#000" stroke-width="1.1" />
<line x1="571.60" y1="693.40" x2="571.60" y2="696.70" stroke="#000" stroke-width="1.1" />
<line x1="574.35" y1="693.40" x2="574.35" y2="695.40" stroke="#000" stroke-width="1.1" />
<line x1="577.11" y1="693.40" x2="577.11" y2="695.40" stroke="#000" stroke-width="1.1" />
<line x1="579.86" y1="693.40" x2="579.86" y2="695.40" stroke="#000" stroke-width="1.1" />
<line x1="582.62" y1="693.40" x2="582.62" y2="695.40" stroke="#000" stroke-width="1.1" />
<line x1="585.37" y1="693.40" x2="585.37" y2="696.70" stroke="#000" stroke-width="1.1" />
<line x1="588.12" y1="693.40" x2="588.12" y2="695.40" stroke="#000" stroke-width="1.1" />
<line x1="590.88" y1="693.40" x2="590.88" y2="695.40" stroke="#000" stroke-width="1.1" />
<line x1="593.63" y1="693.40" x2="593.63" y2="695.40" stroke="#000" stroke-width="1.1" />
<line x1="596.39" y1="693.40" x2="596.39" y2="695.40" stroke="#000" stroke-width="1.1" />
<line x1="599.14" y1="693.40" x2="599.14" y2="696.70" stroke="#000" stroke-width="1.1" />
<line x1="601.90" y1="693.40" x2="601.90" y2="695.40" stroke="#000" stroke-width="1.1" />
<line x1="604.65" y1="693.40" x2="604.65" y2="695.40" stroke="#000" stroke-width="1.1" />
<line x1="607.40" y1="693.40" x2="607.40" y2="695.40" stroke="#000" stroke-width="1.1" />
<line x1="610.16" y1="693.40" x2="610.16" y2="695.40" stroke="#000" stroke-width="1.1" />
<line x1="612.91" y1="693.40" x2="612.91" y2="698.40" stroke="#000" stroke-width="1.1" />
<line x1="615.67" y1="693.40" x2="615.67" y2="695.40" stroke="#000" stroke-width="1.1" />
<line x1="618.42" y1="693.40" x2="618.42" y2="695.40" stroke="#000" stroke-width="1.1" />
<line x1="621.18" y1="693.40" x2="621.18" y2="695.40" stroke="#000" stroke-width="1.1" />
<line x1="623.93" y1="693.40" x2="623.93" y2="695.40" stroke="#000" stroke-width="1.1" />
<line x1="626.68" y1="693.40" x2="626.68" y2="696.70" stroke="#000" stroke-width="1.1" />
<line x1="629.44" y1="693.40" x2="629.44" y2="695.40" stroke="#000" stroke-width="1.1" />
<line x1="632.19" y1="693.40" x2="632.19" y2="695.40" stroke="#000" stroke-width="1.1" />
<line x1="634.95" y1="693.40" x2="634.95" y2="695.40" stroke="#000" stroke-width="1.1" />
<line x1="637.70" y1="693.40" x2="637.70" y2="695.40" stroke="#000" stroke-width="1.1" />
<line x1="640.46" y1="693.40" x2="640.46" y2="696.70" stroke="#000" stroke-width="1.1" />
<line x1="643.21" y1="693.40" x2="643.21" y2="695.40" stroke="#000" stroke-width="1.1" />
<line x1="645.97" y1="693.40" x2="645.97" y2="695.40" stroke="#000" stroke-width="1.1" />
<line x1="648.72" y1="693.40" x2="648.72" y2="695.40" stroke="#000" stroke-width="1.1" />
<line x1="651.47" y1="693.40" x2="651.47" y2="695.40" stroke="#000" stroke-width="1.1" />
<line x1="654.23" y1="693.40" x2="654.23" y2="696.70" stroke="#000" stroke-width="1.1" />
<line x1="656.98" y1="693.40" x2="656.98" y2="695.40" stroke="#000" stroke-width="1.1" />
<line x1="659.74" y1="693.40" x2="659.74" y2="695.40" stroke="#000" stroke-width="1.1" />
<line x1="662.49" y1="693.40" x2="662.49" y2="695.40" stroke="#000" stroke-width="1.1" />
<line x1="665.25" y1="693.40" x2="665.25" y2="695.40" stroke="#000" stroke-width="1.1" />
<line x1="668.00" y1="693.40" x2="668.00" y2="698.40" stroke="#000" stroke-width="1.1" />
<text x="117.63" y="709.40" font-size="10" text-anchor="middle" font-weight="normal" fill="#000" >2600</text>
<text x="227.80" y="709.40" font-size="10" text-anchor="middle" font-weight="normal" fill="#000" >3000</text>
<text x="337.98" y="709.40" font-size="10" text-anchor="middle" font-weight="normal" fill="#000" >3400</text>
<text x="448.15" y="709.40" font-size="10" text-anchor="middle" font-weight="normal" fill="#000" >3800</text>
<text x="613.41" y="709.40" font-size="10" text-anchor="middle" font-weight="normal" fill="#000" >4400</text>
<text x="350.80" y="721.60" font-size="10.5" text-anchor="middle" font-weight="normal" fill="#000" >m/z</text>
<line x1="63.40" y1="693.40" x2="63.40" y2="690.40" stroke="#111" stroke-width="1.1" />
<line x1="79.60" y1="693.40" x2="79.60" y2="691.40" stroke="#111" stroke-width="1.1" />
<line x1="93.70" y1="693.40" x2="93.70" y2="691.90" stroke="#111" stroke-width="1.1" />
<line x1="105.40" y1="693.40" x2="105.40" y2="687.90" stroke="#111" stroke-width="1.1" />
<line x1="109.10" y1="693.40" x2="109.10" y2="689.40" stroke="#111" stroke-width="1.1" />
<line x1="116.50" y1="693.40" x2="116.50" y2="661.40" stroke="#111" stroke-width="1.1" />
<line x1="136.30" y1="693.40" x2="136.30" y2="689.40" stroke="#111" stroke-width="1.1" />
<line x1="149.70" y1="693.40" x2="149.70" y2="686.40" stroke="#111" stroke-width="1.1" />
<line x1="160.90" y1="693.40" x2="160.90" y2="674.80" stroke="#111" stroke-width="1.1" />
<line x1="168.00" y1="693.40" x2="168.00" y2="691.90" stroke="#111" stroke-width="1.1" />
<line x1="177.00" y1="693.40" x2="177.00" y2="691.90" stroke="#111" stroke-width="1.1" />
<line x1="183.00" y1="693.40" x2="183.00" y2="691.90" stroke="#111" stroke-width="1.1" />
<line x1="190.30" y1="693.40" x2="190.30" y2="686.40" stroke="#111" stroke-width="1.1" />
<line x1="194.30" y1="693.40" x2="194.30" y2="677.60" stroke="#111" stroke-width="1.1" />
<line x1="201.50" y1="693.40" x2="201.50" y2="676.00" stroke="#111" stroke-width="1.1" />
<line x1="205.00" y1="693.40" x2="205.00" y2="688.40" stroke="#111" stroke-width="1.1" />
<line x1="212.00" y1="693.40" x2="212.00" y2="691.90" stroke="#111" stroke-width="1.1" />
<line x1="230.10" y1="693.40" x2="230.10" y2="683.10" stroke="#111" stroke-width="1.1" />
<line x1="236.00" y1="693.40" x2="236.00" y2="690.40" stroke="#111" stroke-width="1.1" />
<line x1="240.00" y1="693.40" x2="240.00" y2="691.90" stroke="#111" stroke-width="1.1" />
<line x1="268.30" y1="693.40" x2="268.30" y2="678.60" stroke="#111" stroke-width="1.1" />
<line x1="270.40" y1="693.40" x2="270.40" y2="585.90" stroke="#111" stroke-width="1.1" />
<line x1="274.80" y1="693.40" x2="274.80" y2="673.40" stroke="#111" stroke-width="1.1" />
<line x1="279.40" y1="693.40" x2="279.40" y2="687.40" stroke="#111" stroke-width="1.1" />
<line x1="286.00" y1="693.40" x2="286.00" y2="691.40" stroke="#111" stroke-width="1.1" />
<line x1="290.00" y1="693.40" x2="290.00" y2="691.40" stroke="#111" stroke-width="1.1" />
<line x1="295.40" y1="693.40" x2="295.40" y2="689.40" stroke="#111" stroke-width="1.1" />
<line x1="315.70" y1="693.40" x2="315.70" y2="633.70" stroke="#111" stroke-width="1.1" />
<line x1="320.40" y1="693.40" x2="320.40" y2="690.40" stroke="#111" stroke-width="1.1" />
<line x1="331.20" y1="693.40" x2="331.20" y2="690.40" stroke="#111" stroke-width="1.1" />
<line x1="342.00" y1="693.40" x2="342.00" y2="691.90" stroke="#111" stroke-width="1.1" />
<line x1="359.90" y1="693.40" x2="359.90" y2="673.80" stroke="#111" stroke-width="1.1" />
<line x1="365.30" y1="693.40" x2="365.30" y2="687.00" stroke="#111" stroke-width="1.1" />
<line x1="375.40" y1="693.40" x2="375.40" y2="688.40" stroke="#111" stroke-width="1.1" />
<line x1="404.70" y1="693.40" x2="404.70" y2="691.90" stroke="#111" stroke-width="1.1" />
<line x1="409.80" y1="693.40" x2="409.80" y2="689.40" stroke="#111" stroke-width="1.1" />
<line x1="149.70" y1="626.50" x2="149.70" y2="683.90" stroke="#8080ff" stroke-width="1.1" />
<line x1="194.40" y1="599.50" x2="194.40" y2="670.00" stroke="#8080ff" stroke-width="1.1" />
<line x1="275.40" y1="576.30" x2="275.40" y2="669.60" stroke="#8080ff" stroke-width="1.1" />
<line x1="151.40" y1="616.60" x2="151.40" y2="604.80" stroke="#707070" stroke-width="0.9" />
<line x1="151.40" y1="604.80" x2="151.40" y2="592.60" stroke="#707070" stroke-width="0.9" />
<line x1="151.40" y1="592.60" x2="145.50" y2="581.10" stroke="#707070" stroke-width="0.9" />
<line x1="151.40" y1="592.60" x2="157.60" y2="581.10" stroke="#707070" stroke-width="0.9" />
<line x1="145.50" y1="581.10" x2="145.50" y2="568.90" stroke="#707070" stroke-width="0.9" />
<line x1="157.60" y1="581.10" x2="157.60" y2="568.90" stroke="#707070" stroke-width="0.9" />
<line x1="145.50" y1="568.90" x2="145.50" y2="557.10" stroke="#707070" stroke-width="0.9" />
<line x1="151.40" y1="616.60" x2="163.80" y2="616.60" stroke="#707070" stroke-width="0.9" />
<rect x="147.90" y="613.10" width="7.00" height="7.00" fill="#0000fa" stroke="#1a1a1a" stroke-width="0.7"/>
<rect x="147.90" y="601.30" width="7.00" height="7.00" fill="#0000fa" stroke="#1a1a1a" stroke-width="0.7"/>
<circle cx="151.40" cy="592.60" r="3.50" fill="#00c832" stroke="#1a1a1a" stroke-width="0.7"/>
<circle cx="145.50" cy="581.10" r="3.50" fill="#00c832" stroke="#1a1a1a" stroke-width="0.7"/>
<circle cx="157.60" cy="581.10" r="3.50" fill="#00c832" stroke="#1a1a1a" stroke-width="0.7"/>
<rect x="142.00" y="565.40" width="7.00" height="7.00" fill="#0000fa" stroke="#1a1a1a" stroke-width="0.7"/>
<rect x="154.10" y="565.40" width="7.00" height="7.00" fill="#0000fa" stroke="#1a1a1a" stroke-width="0.7"/>
<path d="M160.40,616.60 L167.20,613.20 L167.20,620.00 Z" fill="#fa0000" stroke="#1a1a1a" stroke-width="0.5"/>
<circle cx="145.50" cy="557.10" r="3.50" fill="#ffff00" stroke="#1a1a1a" stroke-width="0.7"/>
<line x1="194.30" y1="591.20" x2="194.30" y2="579.40" stroke="#707070" stroke-width="0.9" />
<line x1="194.30" y1="579.40" x2="194.30" y2="567.40" stroke="#707070" stroke-width="0.9" />
<line x1="194.30" y1="567.40" x2="188.40" y2="555.70" stroke="#707070" stroke-width="0.9" />
<line x1="194.30" y1="567.40" x2="200.40" y2="555.70" stroke="#707070" stroke-width="0.9" />
<line x1="188.40" y1="555.70" x2="188.40" y2="543.50" stroke="#707070" stroke-width="0.9" />
<line x1="188.40" y1="543.50" x2="188.40" y2="531.50" stroke="#707070" stroke-width="0.9" />
<line x1="200.40" y1="555.70" x2="200.40" y2="543.50" stroke="#707070" stroke-width="0.9" />
<line x1="200.40" y1="543.50" x2="200.40" y2="531.50" stroke="#707070" stroke-width="0.9" />
<line x1="194.30" y1="591.20" x2="206.60" y2="591.20" stroke="#707070" stroke-width="0.9" />
<rect x="190.80" y="587.70" width="7.00" height="7.00" fill="#0000fa" stroke="#1a1a1a" stroke-width="0.7"/>
<rect x="190.80" y="575.90" width="7.00" height="7.00" fill="#0000fa" stroke="#1a1a1a" stroke-width="0.7"/>
<circle cx="194.30" cy="567.40" r="3.50" fill="#00c832" stroke="#1a1a1a" stroke-width="0.7"/>
<circle cx="188.40" cy="555.70" r="3.50" fill="#00c832" stroke="#1a1a1a" stroke-width="0.7"/>
<circle cx="200.40" cy="555.70" r="3.50" fill="#00c832" stroke="#1a1a1a" stroke-width="0.7"/>
<rect x="184.90" y="540.00" width="7.00" height="7.00" fill="#0000fa" stroke="#1a1a1a" stroke-width="0.7"/>
<circle cx="188.40" cy="531.50" r="3.50" fill="#ffff00" stroke="#1a1a1a" stroke-width="0.7"/>
<rect x="196.90" y="540.00" width="7.00" height="7.00" fill="#0000fa" stroke="#1a1a1a" stroke-width="0.7"/>
<circle cx="200.40" cy="531.50" r="3.50" fill="#ffff00" stroke="#1a1a1a" stroke-width="0.7"/>
<path d="M203.20,591.20 L210.00,587.80 L210.00,594.60 Z" fill="#fa0000" stroke="#1a1a1a" stroke-width="0.5"/>
<line x1="276.70" y1="564.60" x2="276.70" y2="553.50" stroke="#707070" stroke-width="0.9" />
<line x1="276.70" y1="553.50" x2="276.70" y2="541.70" stroke="#707070" stroke-width="0.9" />
<line x1="276.70" y1="541.70" x2="271.00" y2="530.30" stroke="#707070" stroke-width="0.9" />
<line x1="276.70" y1="541.70" x2="282.40" y2="530.30" stroke="#707070" stroke-width="0.9" />
<line x1="271.00" y1="530.30" x2="271.00" y2="518.90" stroke="#707070" stroke-width="0.9" />
<line x1="271.00" y1="518.90" x2="271.00" y2="507.30" stroke="#707070" stroke-width="0.9" />
<line x1="282.40" y1="530.30" x2="282.40" y2="518.90" stroke="#707070" stroke-width="0.9" />
<line x1="282.40" y1="518.90" x2="282.40" y2="507.30" stroke="#707070" stroke-width="0.9" />
<line x1="271.00" y1="507.30" x2="271.00" y2="495.90" stroke="#707070" stroke-width="0.9" />
<line x1="276.70" y1="564.60" x2="288.10" y2="564.60" stroke="#707070" stroke-width="0.9" />
<rect x="273.20" y="561.10" width="7.00" height="7.00" fill="#0000fa" stroke="#1a1a1a" stroke-width="0.7"/>
<rect x="273.20" y="550.00" width="7.00" height="7.00" fill="#0000fa" stroke="#1a1a1a" stroke-width="0.7"/>
<circle cx="276.70" cy="541.70" r="3.50" fill="#00c832" stroke="#1a1a1a" stroke-width="0.7"/>
<circle cx="271.00" cy="530.30" r="3.50" fill="#00c832" stroke="#1a1a1a" stroke-width="0.7"/>
<circle cx="282.40" cy="530.30" r="3.50" fill="#00c832" stroke="#1a1a1a" stroke-width="0.7"/>
<rect x="267.50" y="515.40" width="7.00" height="7.00" fill="#0000fa" stroke="#1a1a1a" stroke-width="0.7"/>
<circle cx="271.00" cy="507.30" r="3.50" fill="#ffff00" stroke="#1a1a1a" stroke-width="0.7"/>
<rect x="278.90" y="515.40" width="7.00" height="7.00" fill="#0000fa" stroke="#1a1a1a" stroke-width="0.7"/>
<circle cx="282.40" cy="507.30" r="3.50" fill="#ffff00" stroke="#1a1a1a" stroke-width="0.7"/>
<path d="M271.00,492.45 L274.45,495.90 L271.00,499.35 L267.55,495.90 Z" fill="#c800c8" stroke="#1a1a1a" stroke-width="0.6"/>
<path d="M284.70,564.60 L291.50,561.20 L291.50,568.00 Z" fill="#fa0000" stroke="#1a1a1a" stroke-width="0.5"/>
<line x1="361.50" y1="664.60" x2="361.50" y2="653.30" stroke="#707070" stroke-width="0.9" />
<line x1="361.50" y1="653.30" x2="361.50" y2="641.80" stroke="#707070" stroke-width="0.9" />
<line x1="361.50" y1="641.80" x2="355.80" y2="630.40" stroke="#707070" stroke-width="0.9" />
<line x1="361.50" y1="641.80" x2="367.40" y2="630.40" stroke="#707070" stroke-width="0.9" />
<line x1="355.80" y1="630.40" x2="355.80" y2="618.80" stroke="#707070" stroke-width="0.9" />
<line x1="355.80" y1="618.80" x2="355.80" y2="607.40" stroke="#707070" stroke-width="0.9" />
<line x1="367.40" y1="630.40" x2="367.40" y2="618.80" stroke="#707070" stroke-width="0.9" />
<line x1="367.40" y1="618.80" x2="367.40" y2="607.40" stroke="#707070" stroke-width="0.9" />
<line x1="355.80" y1="607.40" x2="355.80" y2="595.90" stroke="#707070" stroke-width="0.9" />
<line x1="367.40" y1="607.40" x2="367.40" y2="595.90" stroke="#707070" stroke-width="0.9" />
<line x1="361.50" y1="664.60" x2="373.30" y2="664.60" stroke="#707070" stroke-width="0.9" />
<rect x="358.00" y="661.10" width="7.00" height="7.00" fill="#0000fa" stroke="#1a1a1a" stroke-width="0.7"/>
<rect x="358.00" y="649.80" width="7.00" height="7.00" fill="#0000fa" stroke="#1a1a1a" stroke-width="0.7"/>
<circle cx="361.50" cy="641.80" r="3.50" fill="#00c832" stroke="#1a1a1a" stroke-width="0.7"/>
<circle cx="355.80" cy="630.40" r="3.50" fill="#00c832" stroke="#1a1a1a" stroke-width="0.7"/>
<circle cx="367.40" cy="630.40" r="3.50" fill="#00c832" stroke="#1a1a1a" stroke-width="0.7"/>
<rect x="352.30" y="615.30" width="7.00" height="7.00" fill="#0000fa" stroke="#1a1a1a" stroke-width="0.7"/>
<circle cx="355.80" cy="607.40" r="3.50" fill="#ffff00" stroke="#1a1a1a" stroke-width="0.7"/>
<rect x="363.90" y="615.30" width="7.00" height="7.00" fill="#0000fa" stroke="#1a1a1a" stroke-width="0.7"/>
<circle cx="367.40" cy="607.40" r="3.50" fill="#ffff00" stroke="#1a1a1a" stroke-width="0.7"/>
<path d="M355.80,592.45 L359.25,595.90 L355.80,599.35 L352.35,595.90 Z" fill="#c800c8" stroke="#1a1a1a" stroke-width="0.6"/>
<path d="M367.40,592.45 L370.85,595.90 L367.40,599.35 L363.95,595.90 Z" fill="#c800c8" stroke="#1a1a1a" stroke-width="0.6"/>
<path d="M369.90,664.60 L376.70,661.20 L376.70,668.00 Z" fill="#fa0000" stroke="#1a1a1a" stroke-width="0.5"/>
<line x1="459.80" y1="682.50" x2="459.80" y2="671.00" stroke="#707070" stroke-width="0.9" />
<line x1="459.80" y1="671.00" x2="459.80" y2="659.30" stroke="#707070" stroke-width="0.9" />
<line x1="459.80" y1="659.30" x2="451.40" y2="648.20" stroke="#707070" stroke-width="0.9" />
<line x1="459.80" y1="659.30" x2="468.50" y2="648.20" stroke="#707070" stroke-width="0.9" />
<line x1="451.40" y1="648.20" x2="451.40" y2="636.70" stroke="#707070" stroke-width="0.9" />
<line x1="451.40" y1="636.70" x2="451.40" y2="625.20" stroke="#707070" stroke-width="0.9" />
<line x1="468.50" y1="648.20" x2="462.80" y2="636.70" stroke="#707070" stroke-width="0.9" />
<line x1="462.80" y1="636.70" x2="462.80" y2="625.20" stroke="#707070" stroke-width="0.9" />
<line x1="468.50" y1="648.20" x2="474.40" y2="636.70" stroke="#707070" stroke-width="0.9" />
<line x1="474.40" y1="636.70" x2="474.40" y2="625.20" stroke="#707070" stroke-width="0.9" />
<line x1="456.40" y1="610.50" x2="456.40" y2="615.30" stroke="#707070" stroke-width="0.9" />
<line x1="467.60" y1="610.50" x2="467.60" y2="615.30" stroke="#707070" stroke-width="0.9" />
<rect x="456.30" y="679.00" width="7.00" height="7.00" fill="#0000fa" stroke="#1a1a1a" stroke-width="0.7"/>
<rect x="456.30" y="667.50" width="7.00" height="7.00" fill="#0000fa" stroke="#1a1a1a" stroke-width="0.7"/>
<circle cx="459.80" cy="659.30" r="3.50" fill="#00c832" stroke="#1a1a1a" stroke-width="0.7"/>
<circle cx="451.40" cy="648.20" r="3.50" fill="#00c832" stroke="#1a1a1a" stroke-width="0.7"/>
<circle cx="468.50" cy="648.20" r="3.50" fill="#00c832" stroke="#1a1a1a" stroke-width="0.7"/>
<rect x="447.90" y="633.20" width="7.00" height="7.00" fill="#0000fa" stroke="#1a1a1a" stroke-width="0.7"/>
<circle cx="451.40" cy="625.20" r="3.50" fill="#ffff00" stroke="#1a1a1a" stroke-width="0.7"/>
<rect x="459.30" y="633.20" width="7.00" height="7.00" fill="#0000fa" stroke="#1a1a1a" stroke-width="0.7"/>
<circle cx="462.80" cy="625.20" r="3.50" fill="#ffff00" stroke="#1a1a1a" stroke-width="0.7"/>
<rect x="470.90" y="633.20" width="7.00" height="7.00" fill="#0000fa" stroke="#1a1a1a" stroke-width="0.7"/>
<circle cx="474.40" cy="625.20" r="3.50" fill="#ffff00" stroke="#1a1a1a" stroke-width="0.7"/>
<path d="M467.80,682.50 L474.60,679.10 L474.60,685.90 Z" fill="#fa0000" stroke="#1a1a1a" stroke-width="0.5"/>
<path d="M456.40,604.25 L459.85,607.70 L456.40,611.15 L452.95,607.70 Z" fill="#c800c8" stroke="#1a1a1a" stroke-width="0.6"/>
<path d="M467.60,604.25 L471.05,607.70 L467.60,611.15 L464.15,607.70 Z" fill="#c800c8" stroke="#1a1a1a" stroke-width="0.6"/>
<path d="M448.10,619.90 Q448.60,618.60 451.10,618.60 L460.90,618.60 Q462.40,618.60 462.90,617.60 Q463.40,618.60 464.90,618.60 L474.70,618.60 Q477.20,618.60 477.70,619.90" fill="none" stroke="#707070" stroke-width="0.9"/>
<line x1="540.00" y1="682.50" x2="540.00" y2="671.00" stroke="#707070" stroke-width="0.9" />
<line x1="540.00" y1="671.00" x2="540.00" y2="659.60" stroke="#707070" stroke-width="0.9" />
<line x1="540.00" y1="659.60" x2="531.40" y2="648.20" stroke="#707070" stroke-width="0.9" />
<line x1="540.00" y1="659.60" x2="548.50" y2="648.20" stroke="#707070" stroke-width="0.9" />
<line x1="531.40" y1="648.20" x2="531.40" y2="636.70" stroke="#707070" stroke-width="0.9" />
<line x1="531.40" y1="636.70" x2="531.40" y2="625.50" stroke="#707070" stroke-width="0.9" />
<line x1="548.50" y1="648.20" x2="543.00" y2="636.70" stroke="#707070" stroke-width="0.9" />
<line x1="543.00" y1="636.70" x2="543.00" y2="625.50" stroke="#707070" stroke-width="0.9" />
<line x1="548.50" y1="648.20" x2="554.40" y2="636.70" stroke="#707070" stroke-width="0.9" />
<line x1="554.40" y1="636.70" x2="554.40" y2="625.50" stroke="#707070" stroke-width="0.9" />
<line x1="531.40" y1="625.50" x2="531.40" y2="614.00" stroke="#707070" stroke-width="0.9" />
<line x1="543.00" y1="625.50" x2="543.00" y2="614.00" stroke="#707070" stroke-width="0.9" />
<line x1="554.40" y1="625.50" x2="554.40" y2="614.00" stroke="#707070" stroke-width="0.9" />
<line x1="540.00" y1="682.50" x2="551.80" y2="682.50" stroke="#707070" stroke-width="0.9" />
<rect x="536.50" y="679.00" width="7.00" height="7.00" fill="#0000fa" stroke="#1a1a1a" stroke-width="0.7"/>
<rect x="536.50" y="667.50" width="7.00" height="7.00" fill="#0000fa" stroke="#1a1a1a" stroke-width="0.7"/>
<circle cx="540.00" cy="659.60" r="3.50" fill="#00c832" stroke="#1a1a1a" stroke-width="0.7"/>
<circle cx="531.40" cy="648.20" r="3.50" fill="#00c832" stroke="#1a1a1a" stroke-width="0.7"/>
<circle cx="548.50" cy="648.20" r="3.50" fill="#00c832" stroke="#1a1a1a" stroke-width="0.7"/>
<rect x="527.90" y="633.20" width="7.00" height="7.00" fill="#0000fa" stroke="#1a1a1a" stroke-width="0.7"/>
<circle cx="531.40" cy="625.50" r="3.50" fill="#ffff00" stroke="#1a1a1a" stroke-width="0.7"/>
<rect x="539.50" y="633.20" width="7.00" height="7.00" fill="#0000fa" stroke="#1a1a1a" stroke-width="0.7"/>
<circle cx="543.00" cy="625.50" r="3.50" fill="#ffff00" stroke="#1a1a1a" stroke-width="0.7"/>
<rect x="550.90" y="633.20" width="7.00" height="7.00" fill="#0000fa" stroke="#1a1a1a" stroke-width="0.7"/>
<circle cx="554.40" cy="625.50" r="3.50" fill="#ffff00" stroke="#1a1a1a" stroke-width="0.7"/>
<path d="M531.40,610.55 L534.85,614.00 L531.40,617.45 L527.95,614.00 Z" fill="#c800c8" stroke="#1a1a1a" stroke-width="0.6"/>
<path d="M543.00,610.55 L546.45,614.00 L543.00,617.45 L539.55,614.00 Z" fill="#c800c8" stroke="#1a1a1a" stroke-width="0.6"/>
<path d="M554.40,610.55 L557.85,614.00 L554.40,617.45 L550.95,614.00 Z" fill="#c800c8" stroke="#1a1a1a" stroke-width="0.6"/>
<path d="M548.40,682.50 L555.20,679.10 L555.20,685.90 Z" fill="#fa0000" stroke="#1a1a1a" stroke-width="0.5"/>
</svg>
</body></html>
